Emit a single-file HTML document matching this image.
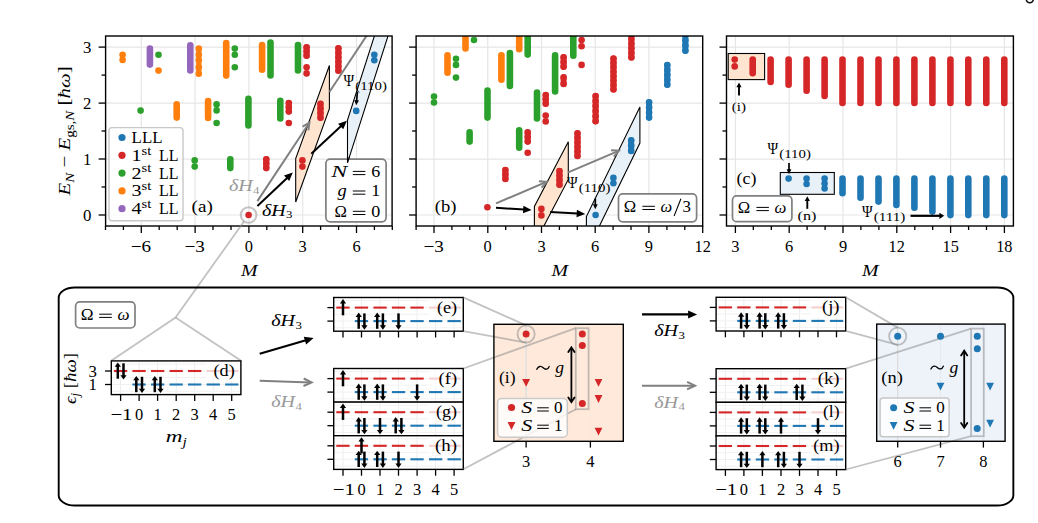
<!DOCTYPE html>
<html><head><meta charset="utf-8"><title>figure</title>
<style>
html,body{margin:0;padding:0;background:#fff;}
svg{display:block;}
text{font-family:"Liberation Serif",serif;}
.i{font-style:italic;}
</style></head><body>
<svg width="1038" height="523" viewBox="0 0 1038 523">
<rect x="0" y="0" width="1038" height="523" fill="#fff"/>
<clipPath id="cp0"><rect x="105.6" y="36.0" width="286.5" height="190.0"/></clipPath>
<g clip-path="url(#cp0)">
<line x1="141.3" y1="36.0" x2="141.3" y2="226.0" stroke="#e6e6e6" stroke-width="1.2"/>
<line x1="195.1" y1="36.0" x2="195.1" y2="226.0" stroke="#e6e6e6" stroke-width="1.2"/>
<line x1="248.9" y1="36.0" x2="248.9" y2="226.0" stroke="#e6e6e6" stroke-width="1.2"/>
<line x1="302.7" y1="36.0" x2="302.7" y2="226.0" stroke="#e6e6e6" stroke-width="1.2"/>
<line x1="356.5" y1="36.0" x2="356.5" y2="226.0" stroke="#e6e6e6" stroke-width="1.2"/>
<line x1="105.6" y1="215.0" x2="392.1" y2="215.0" stroke="#e6e6e6" stroke-width="1.2"/>
<line x1="105.6" y1="159.03" x2="392.1" y2="159.03" stroke="#e6e6e6" stroke-width="1.2"/>
<line x1="105.6" y1="103.06" x2="392.1" y2="103.06" stroke="#e6e6e6" stroke-width="1.2"/>
<line x1="105.6" y1="47.09" x2="392.1" y2="47.09" stroke="#e6e6e6" stroke-width="1.2"/>
</g>
<clipPath id="cp1"><rect x="416.1" y="36.0" width="286.6" height="190.0"/></clipPath>
<g clip-path="url(#cp1)">
<line x1="434.0" y1="36.0" x2="434.0" y2="226.0" stroke="#e6e6e6" stroke-width="1.2"/>
<line x1="487.75" y1="36.0" x2="487.75" y2="226.0" stroke="#e6e6e6" stroke-width="1.2"/>
<line x1="541.5" y1="36.0" x2="541.5" y2="226.0" stroke="#e6e6e6" stroke-width="1.2"/>
<line x1="595.2" y1="36.0" x2="595.2" y2="226.0" stroke="#e6e6e6" stroke-width="1.2"/>
<line x1="648.9" y1="36.0" x2="648.9" y2="226.0" stroke="#e6e6e6" stroke-width="1.2"/>
<line x1="702.7" y1="36.0" x2="702.7" y2="226.0" stroke="#e6e6e6" stroke-width="1.2"/>
<line x1="416.1" y1="215.0" x2="702.7" y2="215.0" stroke="#e6e6e6" stroke-width="1.2"/>
<line x1="416.1" y1="159.03" x2="702.7" y2="159.03" stroke="#e6e6e6" stroke-width="1.2"/>
<line x1="416.1" y1="103.06" x2="702.7" y2="103.06" stroke="#e6e6e6" stroke-width="1.2"/>
<line x1="416.1" y1="47.09" x2="702.7" y2="47.09" stroke="#e6e6e6" stroke-width="1.2"/>
</g>
<clipPath id="cp2"><rect x="726.5" y="36.0" width="286.9" height="190.0"/></clipPath>
<g clip-path="url(#cp2)">
<line x1="735.4" y1="36.0" x2="735.4" y2="226.0" stroke="#e6e6e6" stroke-width="1.2"/>
<line x1="789.2" y1="36.0" x2="789.2" y2="226.0" stroke="#e6e6e6" stroke-width="1.2"/>
<line x1="843.0" y1="36.0" x2="843.0" y2="226.0" stroke="#e6e6e6" stroke-width="1.2"/>
<line x1="896.8" y1="36.0" x2="896.8" y2="226.0" stroke="#e6e6e6" stroke-width="1.2"/>
<line x1="950.6" y1="36.0" x2="950.6" y2="226.0" stroke="#e6e6e6" stroke-width="1.2"/>
<line x1="1004.4" y1="36.0" x2="1004.4" y2="226.0" stroke="#e6e6e6" stroke-width="1.2"/>
<line x1="726.5" y1="215.0" x2="1013.4" y2="215.0" stroke="#e6e6e6" stroke-width="1.2"/>
<line x1="726.5" y1="159.03" x2="1013.4" y2="159.03" stroke="#e6e6e6" stroke-width="1.2"/>
<line x1="726.5" y1="103.06" x2="1013.4" y2="103.06" stroke="#e6e6e6" stroke-width="1.2"/>
<line x1="726.5" y1="47.09" x2="1013.4" y2="47.09" stroke="#e6e6e6" stroke-width="1.2"/>
</g>
<g clip-path="url(#cp0)">
<polygon points="295.7,202 295.7,158.5 329.4,65.5 329.4,108.6" fill="#ffe5cf" stroke="#000" stroke-width="1.1"/>
<polygon points="347.5,162.8 347.5,120.2 376.3,30 389.9,30" fill="#e9f1f8" stroke="#000" stroke-width="1.1"/>
<circle cx="122.6" cy="54.8" r="3.3" fill="#ff7f0e"/>
<circle cx="122.6" cy="59.9" r="3.3" fill="#ff7f0e"/>
<line x1="149.9" y1="48.5" x2="149.9" y2="64.6" stroke="#9467bd" stroke-width="6.6" stroke-linecap="round"/>
<circle cx="158.5" cy="54.8" r="3.3" fill="#2ca02c"/>
<circle cx="158.5" cy="70.6" r="3.3" fill="#ff7f0e"/>
<line x1="190.3" y1="45.4" x2="190.3" y2="70.4" stroke="#9467bd" stroke-width="6.6" stroke-linecap="round"/>
<line x1="198.8" y1="48.6" x2="198.8" y2="73.7" stroke="#ff7f0e" stroke-width="5.2" stroke-linecap="round"/>
<circle cx="198.8" cy="48.6" r="3.3" fill="#ff7f0e"/>
<circle cx="198.8" cy="54.8" r="3.3" fill="#ff7f0e"/>
<circle cx="198.8" cy="60.2" r="3.3" fill="#ff7f0e"/>
<circle cx="198.8" cy="67.2" r="3.3" fill="#ff7f0e"/>
<circle cx="198.8" cy="73.7" r="3.3" fill="#ff7f0e"/>
<line x1="226.2" y1="43.0" x2="226.2" y2="75.6" stroke="#ff7f0e" stroke-width="6.6" stroke-linecap="round"/>
<circle cx="234.8" cy="48.6" r="3.3" fill="#2ca02c"/>
<circle cx="234.8" cy="54.8" r="3.3" fill="#2ca02c"/>
<circle cx="234.8" cy="67.2" r="3.3" fill="#2ca02c"/>
<line x1="262.1" y1="45.0" x2="262.1" y2="69.8" stroke="#ff7f0e" stroke-width="6.6" stroke-linecap="round"/>
<line x1="270.5" y1="42.6" x2="270.5" y2="75.5" stroke="#2ca02c" stroke-width="6.6" stroke-linecap="round"/>
<line x1="298.0" y1="45.0" x2="298.0" y2="70.4" stroke="#2ca02c" stroke-width="6.6" stroke-linecap="round"/>
<line x1="306.6" y1="47.2" x2="306.6" y2="55.8" stroke="#d62728" stroke-width="5.9" stroke-linecap="round"/>
<circle cx="306.6" cy="47.2" r="3.3" fill="#d62728"/>
<circle cx="306.6" cy="51.5" r="3.3" fill="#d62728"/>
<circle cx="306.6" cy="55.8" r="3.3" fill="#d62728"/>
<circle cx="306.6" cy="67.2" r="3.3" fill="#d62728"/>
<circle cx="306.6" cy="73.4" r="3.3" fill="#d62728"/>
<line x1="338.4" y1="48.3" x2="338.4" y2="70.8" stroke="#d62728" stroke-width="5.9" stroke-linecap="round"/>
<circle cx="338.4" cy="48.3" r="3.3" fill="#d62728"/>
<circle cx="338.4" cy="52.8" r="3.3" fill="#d62728"/>
<circle cx="338.4" cy="57.3" r="3.3" fill="#d62728"/>
<circle cx="338.4" cy="61.8" r="3.3" fill="#d62728"/>
<circle cx="338.4" cy="66.3" r="3.3" fill="#d62728"/>
<circle cx="338.4" cy="70.8" r="3.3" fill="#d62728"/>
<circle cx="374.3" cy="54.8" r="3.3" fill="#1f77b4"/>
<circle cx="374.3" cy="60.2" r="3.3" fill="#1f77b4"/>
<circle cx="140.6" cy="110.6" r="3.3" fill="#2ca02c"/>
<line x1="176.7" y1="104.2" x2="176.7" y2="117.6" stroke="#ff7f0e" stroke-width="6.6" stroke-linecap="round"/>
<line x1="208.1" y1="101.0" x2="208.1" y2="118.0" stroke="#ff7f0e" stroke-width="6.6" stroke-linecap="round"/>
<circle cx="216.6" cy="104.4" r="3.3" fill="#2ca02c"/>
<circle cx="216.6" cy="110.4" r="3.3" fill="#2ca02c"/>
<circle cx="216.6" cy="123.0" r="3.3" fill="#2ca02c"/>
<line x1="248.4" y1="98.7" x2="248.4" y2="125.4" stroke="#2ca02c" stroke-width="6.6" stroke-linecap="round"/>
<line x1="280.3" y1="100.7" x2="280.3" y2="118.5" stroke="#2ca02c" stroke-width="6.6" stroke-linecap="round"/>
<line x1="288.8" y1="103.0" x2="288.8" y2="111.5" stroke="#d62728" stroke-width="5.9" stroke-linecap="round"/>
<circle cx="288.8" cy="103.0" r="3.3" fill="#d62728"/>
<circle cx="288.8" cy="107.2" r="3.3" fill="#d62728"/>
<circle cx="288.8" cy="111.5" r="3.3" fill="#d62728"/>
<circle cx="288.8" cy="123.0" r="3.3" fill="#d62728"/>
<line x1="320.5" y1="103.8" x2="320.5" y2="117.7" stroke="#d62728" stroke-width="5.9" stroke-linecap="round"/>
<circle cx="320.5" cy="103.8" r="3.3" fill="#d62728"/>
<circle cx="320.5" cy="108.4" r="3.3" fill="#d62728"/>
<circle cx="320.5" cy="113.1" r="3.3" fill="#d62728"/>
<circle cx="320.5" cy="117.7" r="3.3" fill="#d62728"/>
<circle cx="356.2" cy="110.9" r="3.3" fill="#1f77b4"/>
<circle cx="194.7" cy="160.4" r="3.3" fill="#2ca02c"/>
<circle cx="194.7" cy="166.6" r="3.3" fill="#2ca02c"/>
<line x1="230.3" y1="159.2" x2="230.3" y2="168.1" stroke="#2ca02c" stroke-width="6.6" stroke-linecap="round"/>
<line x1="266.3" y1="159.2" x2="266.3" y2="168.1" stroke="#d62728" stroke-width="5.9" stroke-linecap="round"/>
<circle cx="266.3" cy="159.2" r="3.3" fill="#d62728"/>
<circle cx="266.3" cy="163.6" r="3.3" fill="#d62728"/>
<circle cx="266.3" cy="168.1" r="3.3" fill="#d62728"/>
<circle cx="302.4" cy="160.4" r="3.3" fill="#d62728"/>
<circle cx="302.4" cy="166.6" r="3.3" fill="#d62728"/>
<circle cx="248.6" cy="215.0" r="3.3" fill="#d62728"/>
<line x1="257.4" y1="201.1" x2="308.8" y2="123.5" stroke="#808080" stroke-width="2"/>
<polyline points="308.4,130.4 309.4,122.7 302.6,126.6" fill="none" stroke="#808080" stroke-width="2" stroke-linejoin="miter"/>
<line x1="329.4" y1="92" x2="373.7" y2="25" stroke="#808080" stroke-width="2"/>
<line x1="257.4" y1="206.0" x2="287.4" y2="177.7" stroke="#000" stroke-width="2"/>
<polygon points="292.8,172.5 289.2,181.1 284.0,175.6" fill="#000"/>
<line x1="311.3" y1="153.8" x2="341.4" y2="125.8" stroke="#000" stroke-width="2"/>
<polygon points="346.9,120.7 343.2,129.2 338.1,123.7" fill="#000"/>
</g>
<circle cx="248.6" cy="215" r="7.8" fill="none" stroke="#8c8c8c" stroke-opacity="0.5" stroke-width="2.1"/>
<rect x="109.0" y="127.6" width="74.0" height="93.1" rx="3" ry="3" fill="#fff" fill-opacity="0.8" stroke="#c8c8c8" stroke-width="1.4"/>
<circle cx="122.0" cy="137.5" r="3.6" fill="#1f77b4"/>
<text x="131.6" y="142.9" font-size="17" text-anchor="start" fill="#000" textLength="30.9" lengthAdjust="spacingAndGlyphs"  style="">LLL</text>
<circle cx="122.0" cy="155.3" r="3.6" fill="#d62728"/>
<text x="131.4" y="160.7" font-size="17" textLength="19.8" lengthAdjust="spacingAndGlyphs">1<tspan font-size="12.3" dy="-6.2">st</tspan></text>
<text x="158.9" y="160.7" font-size="17" text-anchor="start" fill="#000" textLength="19.5" lengthAdjust="spacingAndGlyphs"  style="">LL</text>
<circle cx="122.0" cy="173.1" r="3.6" fill="#2ca02c"/>
<text x="131.4" y="178.5" font-size="17" textLength="19.8" lengthAdjust="spacingAndGlyphs">2<tspan font-size="12.3" dy="-6.2">st</tspan></text>
<text x="158.9" y="178.5" font-size="17" text-anchor="start" fill="#000" textLength="19.5" lengthAdjust="spacingAndGlyphs"  style="">LL</text>
<circle cx="122.0" cy="190.9" r="3.6" fill="#ff7f0e"/>
<text x="131.4" y="196.3" font-size="17" textLength="19.8" lengthAdjust="spacingAndGlyphs">3<tspan font-size="12.3" dy="-6.2">st</tspan></text>
<text x="158.9" y="196.3" font-size="17" text-anchor="start" fill="#000" textLength="19.5" lengthAdjust="spacingAndGlyphs"  style="">LL</text>
<circle cx="122.0" cy="208.7" r="3.6" fill="#9467bd"/>
<text x="131.4" y="214.1" font-size="17" textLength="19.8" lengthAdjust="spacingAndGlyphs">4<tspan font-size="12.3" dy="-6.2">st</tspan></text>
<text x="158.9" y="214.1" font-size="17" text-anchor="start" fill="#000" textLength="19.5" lengthAdjust="spacingAndGlyphs"  style="">LL</text>
<text x="191.6" y="212.0" font-size="17" text-anchor="start" fill="#000" textLength="21.2" lengthAdjust="spacingAndGlyphs"  style="">(a)</text>
<text x="229.0" y="191.0" font-size="17.5" fill="#999" textLength="30.5" lengthAdjust="spacingAndGlyphs"><tspan class="i">δH</tspan><tspan font-size="11.2" dy="2.7" dx="0.3">4</tspan></text>
<text x="262.0" y="215.7" font-size="17.5" fill="#000" textLength="30.5" lengthAdjust="spacingAndGlyphs"><tspan class="i">δH</tspan><tspan font-size="11.2" dy="2.7" dx="0.3">3</tspan></text>
<rect x="325.9" y="159.2" width="60.2" height="62.6" rx="4.2" ry="4.2" fill="#fff" fill-opacity="0.82" stroke="#808080" stroke-width="1.7"/>
<text x="331.3" y="176.7" font-size="17.5" fill="#000" class="i" textLength="16.0" lengthAdjust="spacingAndGlyphs">N</text>
<line x1="352.8" y1="171.4" x2="365.4" y2="171.4" stroke="#000" stroke-width="1.0"/>
<line x1="352.8" y1="174.6" x2="365.4" y2="174.6" stroke="#000" stroke-width="1.0"/>
<text x="371.3" y="176.7" font-size="16.6" fill="#000" textLength="9.0" lengthAdjust="spacingAndGlyphs">6</text>
<text x="337.6" y="196.3" font-size="17.5" fill="#000" class="i" textLength="9.2" lengthAdjust="spacingAndGlyphs">g</text>
<line x1="352.8" y1="191.0" x2="365.4" y2="191.0" stroke="#000" stroke-width="1.0"/>
<line x1="352.8" y1="194.2" x2="365.4" y2="194.2" stroke="#000" stroke-width="1.0"/>
<text x="371.3" y="196.3" font-size="16.6" fill="#000" textLength="9.0" lengthAdjust="spacingAndGlyphs">1</text>
<text x="334.4" y="216.6" font-size="17.5" fill="#000" textLength="12.4" lengthAdjust="spacingAndGlyphs">Ω</text>
<line x1="352.8" y1="211.3" x2="365.4" y2="211.3" stroke="#000" stroke-width="1.0"/>
<line x1="352.8" y1="214.5" x2="365.4" y2="214.5" stroke="#000" stroke-width="1.0"/>
<text x="371.3" y="216.6" font-size="16.6" fill="#000" textLength="9.0" lengthAdjust="spacingAndGlyphs">0</text>
<polyline points="347.5,157 347.5,162.8 349.4,157" fill="none" stroke="#000" stroke-width="1.1"/>
<text x="343.5" y="85.5" font-size="16.5" textLength="10.6" lengthAdjust="spacingAndGlyphs">Ψ</text>
<text x="355.3" y="89.5" font-size="12" textLength="31.6" lengthAdjust="spacingAndGlyphs">(110)</text>
<line x1="357.4" y1="91.8" x2="356.6" y2="101.3" stroke="#000" stroke-width="1.7"/>
<polygon points="356.2,105.3 354.3,100.1 359.0,100.5" fill="#000"/>
<g clip-path="url(#cp1)">
<polygon points="534.4,244.1 534.4,206.5 568.3,141.8 568.3,179.4" fill="#ffe5cf" stroke="#000" stroke-width="1.1"/>
<polygon points="586.4,252.7 586.4,216.6 639.9,107 639.9,143" fill="#e9f1f8" stroke="#000" stroke-width="1.1"/>
<circle cx="434.0" cy="96.6" r="3.3" fill="#2ca02c"/>
<circle cx="434.0" cy="102.5" r="3.3" fill="#2ca02c"/>
<line x1="447.5" y1="55.3" x2="447.5" y2="72.7" stroke="#ff7f0e" stroke-width="6.6" stroke-linecap="round"/>
<circle cx="456.0" cy="58.7" r="3.3" fill="#2ca02c"/>
<circle cx="456.0" cy="64.9" r="3.3" fill="#2ca02c"/>
<circle cx="456.0" cy="77.6" r="3.3" fill="#2ca02c"/>
<line x1="465.5" y1="30.0" x2="465.5" y2="48.4" stroke="#ff7f0e" stroke-width="6.6" stroke-linecap="round"/>
<circle cx="474.0" cy="40.0" r="3.3" fill="#2ca02c"/>
<line x1="487.5" y1="90.6" x2="487.5" y2="117.6" stroke="#2ca02c" stroke-width="6.6" stroke-linecap="round"/>
<line x1="501.4" y1="55.3" x2="501.4" y2="79.7" stroke="#ff7f0e" stroke-width="6.6" stroke-linecap="round"/>
<line x1="509.9" y1="53.1" x2="509.9" y2="86.0" stroke="#2ca02c" stroke-width="6.6" stroke-linecap="round"/>
<line x1="519.2" y1="30.0" x2="519.2" y2="49.2" stroke="#ff7f0e" stroke-width="6.6" stroke-linecap="round"/>
<line x1="527.7" y1="30.0" x2="527.7" y2="54.6" stroke="#2ca02c" stroke-width="6.6" stroke-linecap="round"/>
<line x1="537.0" y1="92.6" x2="537.0" y2="118.4" stroke="#2ca02c" stroke-width="6.6" stroke-linecap="round"/>
<line x1="545.7" y1="95.0" x2="545.7" y2="103.7" stroke="#d62728" stroke-width="5.9" stroke-linecap="round"/>
<circle cx="545.7" cy="95.0" r="3.3" fill="#d62728"/>
<circle cx="545.7" cy="99.3" r="3.3" fill="#d62728"/>
<circle cx="545.7" cy="103.7" r="3.3" fill="#d62728"/>
<circle cx="545.7" cy="115.5" r="3.3" fill="#d62728"/>
<circle cx="545.7" cy="121.4" r="3.3" fill="#d62728"/>
<line x1="555.1" y1="55.4" x2="555.1" y2="91.4" stroke="#2ca02c" stroke-width="6.6" stroke-linecap="round"/>
<line x1="563.6" y1="57.3" x2="563.6" y2="66.7" stroke="#d62728" stroke-width="5.9" stroke-linecap="round"/>
<circle cx="563.6" cy="57.3" r="3.3" fill="#d62728"/>
<circle cx="563.6" cy="62.0" r="3.3" fill="#d62728"/>
<circle cx="563.6" cy="66.7" r="3.3" fill="#d62728"/>
<line x1="563.6" y1="77.4" x2="563.6" y2="84.0" stroke="#d62728" stroke-width="5.9" stroke-linecap="round"/>
<circle cx="563.6" cy="77.4" r="3.3" fill="#d62728"/>
<circle cx="563.6" cy="84.0" r="3.3" fill="#d62728"/>
<line x1="573.3" y1="30.0" x2="573.3" y2="55.7" stroke="#2ca02c" stroke-width="6.6" stroke-linecap="round"/>
<circle cx="581.6" cy="40.0" r="3.3" fill="#d62728"/>
<circle cx="581.6" cy="46.3" r="3.3" fill="#d62728"/>
<circle cx="581.6" cy="64.9" r="3.3" fill="#d62728"/>
<line x1="595.6" y1="96.0" x2="595.6" y2="121.2" stroke="#d62728" stroke-width="5.9" stroke-linecap="round"/>
<circle cx="595.6" cy="96.0" r="3.3" fill="#d62728"/>
<circle cx="595.6" cy="101.0" r="3.3" fill="#d62728"/>
<circle cx="595.6" cy="106.1" r="3.3" fill="#d62728"/>
<circle cx="595.6" cy="111.1" r="3.3" fill="#d62728"/>
<circle cx="595.6" cy="116.2" r="3.3" fill="#d62728"/>
<circle cx="595.6" cy="121.2" r="3.3" fill="#d62728"/>
<line x1="613.5" y1="58.5" x2="613.5" y2="89.4" stroke="#d62728" stroke-width="5.9" stroke-linecap="round"/>
<circle cx="613.5" cy="58.5" r="3.3" fill="#d62728"/>
<circle cx="613.5" cy="62.9" r="3.3" fill="#d62728"/>
<circle cx="613.5" cy="67.3" r="3.3" fill="#d62728"/>
<circle cx="613.5" cy="71.7" r="3.3" fill="#d62728"/>
<circle cx="613.5" cy="76.2" r="3.3" fill="#d62728"/>
<circle cx="613.5" cy="80.6" r="3.3" fill="#d62728"/>
<circle cx="613.5" cy="85.0" r="3.3" fill="#d62728"/>
<circle cx="613.5" cy="89.4" r="3.3" fill="#d62728"/>
<line x1="631.4" y1="30.0" x2="631.4" y2="57.4" stroke="#d62728" stroke-width="5.9" stroke-linecap="round"/>
<circle cx="631.4" cy="30.0" r="3.3" fill="#d62728"/>
<circle cx="631.4" cy="34.6" r="3.3" fill="#d62728"/>
<circle cx="631.4" cy="39.1" r="3.3" fill="#d62728"/>
<circle cx="631.4" cy="43.7" r="3.3" fill="#d62728"/>
<circle cx="631.4" cy="48.3" r="3.3" fill="#d62728"/>
<circle cx="631.4" cy="52.8" r="3.3" fill="#d62728"/>
<circle cx="631.4" cy="57.4" r="3.3" fill="#d62728"/>
<line x1="649.1" y1="102.3" x2="649.1" y2="117.6" stroke="#1f77b4" stroke-width="5.9" stroke-linecap="round"/>
<circle cx="649.1" cy="102.3" r="3.3" fill="#1f77b4"/>
<circle cx="649.1" cy="107.4" r="3.3" fill="#1f77b4"/>
<circle cx="649.1" cy="112.5" r="3.3" fill="#1f77b4"/>
<circle cx="649.1" cy="117.6" r="3.3" fill="#1f77b4"/>
<line x1="667.3" y1="65.0" x2="667.3" y2="84.8" stroke="#1f77b4" stroke-width="5.9" stroke-linecap="round"/>
<circle cx="667.3" cy="65.0" r="3.3" fill="#1f77b4"/>
<circle cx="667.3" cy="70.0" r="3.3" fill="#1f77b4"/>
<circle cx="667.3" cy="74.9" r="3.3" fill="#1f77b4"/>
<circle cx="667.3" cy="79.8" r="3.3" fill="#1f77b4"/>
<circle cx="667.3" cy="84.8" r="3.3" fill="#1f77b4"/>
<line x1="685.4" y1="30.0" x2="685.4" y2="50.7" stroke="#1f77b4" stroke-width="5.9" stroke-linecap="round"/>
<circle cx="685.4" cy="30.0" r="3.3" fill="#1f77b4"/>
<circle cx="685.4" cy="35.2" r="3.3" fill="#1f77b4"/>
<circle cx="685.4" cy="40.4" r="3.3" fill="#1f77b4"/>
<circle cx="685.4" cy="45.5" r="3.3" fill="#1f77b4"/>
<circle cx="685.4" cy="50.7" r="3.3" fill="#1f77b4"/>
<line x1="469.6" y1="132.4" x2="469.6" y2="141.6" stroke="#2ca02c" stroke-width="6.6" stroke-linecap="round"/>
<line x1="519.2" y1="130.4" x2="519.2" y2="147.8" stroke="#2ca02c" stroke-width="6.6" stroke-linecap="round"/>
<line x1="527.7" y1="132.4" x2="527.7" y2="141.6" stroke="#d62728" stroke-width="5.9" stroke-linecap="round"/>
<circle cx="527.7" cy="132.4" r="3.3" fill="#d62728"/>
<circle cx="527.7" cy="137.0" r="3.3" fill="#d62728"/>
<circle cx="527.7" cy="141.6" r="3.3" fill="#d62728"/>
<circle cx="527.7" cy="152.7" r="3.3" fill="#d62728"/>
<line x1="577.5" y1="133.2" x2="577.5" y2="156.0" stroke="#d62728" stroke-width="5.9" stroke-linecap="round"/>
<circle cx="577.5" cy="133.2" r="3.3" fill="#d62728"/>
<circle cx="577.5" cy="137.8" r="3.3" fill="#d62728"/>
<circle cx="577.5" cy="142.3" r="3.3" fill="#d62728"/>
<circle cx="577.5" cy="146.9" r="3.3" fill="#d62728"/>
<circle cx="577.5" cy="151.4" r="3.3" fill="#d62728"/>
<circle cx="577.5" cy="156.0" r="3.3" fill="#d62728"/>
<line x1="631.2" y1="140.2" x2="631.2" y2="150.9" stroke="#1f77b4" stroke-width="5.9" stroke-linecap="round"/>
<circle cx="631.2" cy="140.2" r="3.3" fill="#1f77b4"/>
<circle cx="631.2" cy="145.6" r="3.3" fill="#1f77b4"/>
<circle cx="631.2" cy="150.9" r="3.3" fill="#1f77b4"/>
<line x1="505.4" y1="170.0" x2="505.4" y2="178.9" stroke="#d62728" stroke-width="5.9" stroke-linecap="round"/>
<circle cx="505.4" cy="170.0" r="3.3" fill="#d62728"/>
<circle cx="505.4" cy="174.4" r="3.3" fill="#d62728"/>
<circle cx="505.4" cy="178.9" r="3.3" fill="#d62728"/>
<line x1="559.5" y1="171.0" x2="559.5" y2="184.7" stroke="#d62728" stroke-width="5.9" stroke-linecap="round"/>
<circle cx="559.5" cy="171.0" r="3.3" fill="#d62728"/>
<circle cx="559.5" cy="175.6" r="3.3" fill="#d62728"/>
<circle cx="559.5" cy="180.1" r="3.3" fill="#d62728"/>
<circle cx="559.5" cy="184.7" r="3.3" fill="#d62728"/>
<circle cx="613.4" cy="177.9" r="3.3" fill="#1f77b4"/>
<circle cx="613.4" cy="183.3" r="3.3" fill="#1f77b4"/>
<circle cx="487.4" cy="207.3" r="3.3" fill="#d62728"/>
<circle cx="541.4" cy="208.9" r="3.3" fill="#d62728"/>
<circle cx="541.4" cy="215.4" r="3.3" fill="#d62728"/>
<circle cx="595.6" cy="215.0" r="3.3" fill="#1f77b4"/>
<line x1="496.0" y1="203.4" x2="545.8" y2="182.2" stroke="#808080" stroke-width="2"/>
<polyline points="541.7,187.7 546.8,181.8 538.9,181.3" fill="none" stroke="#808080" stroke-width="2" stroke-linejoin="miter"/>
<line x1="568.2" y1="172.3" x2="618.0" y2="151.1" stroke="#808080" stroke-width="2"/>
<polyline points="613.9,156.6 619.0,150.7 611.1,150.2" fill="none" stroke="#808080" stroke-width="2" stroke-linejoin="miter"/>
<line x1="496.0" y1="207.8" x2="524.1" y2="209.6" stroke="#000" stroke-width="2"/>
<polygon points="531.6,210.1 522.9,213.3 523.4,205.8" fill="#000"/>
<line x1="550.2" y1="212.0" x2="577.7" y2="213.6" stroke="#000" stroke-width="2"/>
<polygon points="585.2,214.0 576.5,217.3 576.9,209.8" fill="#000"/>
</g>
<text x="434.8" y="211.8" font-size="17" text-anchor="start" fill="#000" textLength="21.7" lengthAdjust="spacingAndGlyphs"  style="">(b)</text>
<text x="567.0" y="188.4" font-size="16.5" textLength="10.6" lengthAdjust="spacingAndGlyphs">Ψ</text>
<text x="578.8" y="192.4" font-size="12" textLength="31.6" lengthAdjust="spacingAndGlyphs">(110)</text>
<line x1="595.3" y1="198.6" x2="595.3" y2="205.2" stroke="#000" stroke-width="1.7"/>
<polygon points="595.3,209.2 592.9,204.2 597.7,204.2" fill="#000"/>
<rect x="618.5" y="193.9" width="78.1" height="27.9" rx="4.2" ry="4.2" fill="#fff" fill-opacity="0.82" stroke="#808080" stroke-width="1.7"/>
<text x="623.8" y="211.6" font-size="17.5" fill="#000" textLength="12.4" lengthAdjust="spacingAndGlyphs">Ω</text>
<line x1="642.4" y1="206.3" x2="654.9" y2="206.3" stroke="#000" stroke-width="1.0"/>
<line x1="642.4" y1="209.5" x2="654.9" y2="209.5" stroke="#000" stroke-width="1.0"/>
<text x="660.6" y="211.6" font-size="17.5" fill="#000" class="i" textLength="11.6" lengthAdjust="spacingAndGlyphs">ω</text>
<line x1="674.1" y1="216.0" x2="680.9" y2="198.7" stroke="#000" stroke-width="1.05"/>
<text x="682.6" y="211.6" font-size="16.6" fill="#000" textLength="8.4" lengthAdjust="spacingAndGlyphs">3</text>
<g clip-path="url(#cp2)">
<rect x="728.2" y="53.5" width="36.4" height="26.1" fill="#ffe5cf" stroke="#000" stroke-width="1.1"/>
<rect x="780.3" y="172.5" width="54" height="21.8" fill="#e9f1f8" stroke="#000" stroke-width="1.1"/>
<circle cx="734.7" cy="59.6" r="3.3" fill="#d62728"/>
<circle cx="734.7" cy="66.4" r="3.3" fill="#d62728"/>
<line x1="752.7" y1="59.6" x2="752.7" y2="73.2" stroke="#d62728" stroke-width="6.6" stroke-linecap="round"/>
<line x1="770.6" y1="59.6" x2="770.6" y2="82.0" stroke="#d62728" stroke-width="6.6" stroke-linecap="round"/>
<line x1="788.6" y1="59.6" x2="788.6" y2="84.8" stroke="#d62728" stroke-width="6.6" stroke-linecap="round"/>
<line x1="806.6" y1="59.6" x2="806.6" y2="90.7" stroke="#d62728" stroke-width="6.6" stroke-linecap="round"/>
<line x1="824.6" y1="59.6" x2="824.6" y2="96.0" stroke="#d62728" stroke-width="6.6" stroke-linecap="round"/>
<line x1="842.5" y1="59.6" x2="842.5" y2="103.0" stroke="#d62728" stroke-width="6.6" stroke-linecap="round"/>
<line x1="860.5" y1="59.6" x2="860.5" y2="103.0" stroke="#d62728" stroke-width="6.6" stroke-linecap="round"/>
<line x1="878.5" y1="59.6" x2="878.5" y2="103.0" stroke="#d62728" stroke-width="6.6" stroke-linecap="round"/>
<line x1="896.4" y1="59.6" x2="896.4" y2="103.0" stroke="#d62728" stroke-width="6.6" stroke-linecap="round"/>
<line x1="914.4" y1="59.6" x2="914.4" y2="103.0" stroke="#d62728" stroke-width="6.6" stroke-linecap="round"/>
<line x1="932.4" y1="59.6" x2="932.4" y2="103.0" stroke="#d62728" stroke-width="6.6" stroke-linecap="round"/>
<line x1="950.4" y1="59.6" x2="950.4" y2="103.0" stroke="#d62728" stroke-width="6.6" stroke-linecap="round"/>
<line x1="968.3" y1="59.6" x2="968.3" y2="103.0" stroke="#d62728" stroke-width="6.6" stroke-linecap="round"/>
<line x1="986.3" y1="59.6" x2="986.3" y2="103.0" stroke="#d62728" stroke-width="6.6" stroke-linecap="round"/>
<line x1="1004.3" y1="59.6" x2="1004.3" y2="103.0" stroke="#d62728" stroke-width="6.6" stroke-linecap="round"/>
<circle cx="788.6" cy="178.6" r="3.3" fill="#1f77b4"/>
<circle cx="806.6" cy="178.6" r="3.3" fill="#1f77b4"/>
<circle cx="806.6" cy="184.0" r="3.3" fill="#1f77b4"/>
<circle cx="824.6" cy="178.6" r="3.3" fill="#1f77b4"/>
<circle cx="824.6" cy="183.5" r="3.3" fill="#1f77b4"/>
<circle cx="824.6" cy="188.5" r="3.3" fill="#1f77b4"/>
<line x1="842.5" y1="178.6" x2="842.5" y2="193.3" stroke="#1f77b4" stroke-width="6.6" stroke-linecap="round"/>
<line x1="860.5" y1="178.6" x2="860.5" y2="197.8" stroke="#1f77b4" stroke-width="6.6" stroke-linecap="round"/>
<line x1="878.5" y1="178.6" x2="878.5" y2="201.6" stroke="#1f77b4" stroke-width="6.6" stroke-linecap="round"/>
<line x1="896.4" y1="178.6" x2="896.4" y2="204.9" stroke="#1f77b4" stroke-width="6.6" stroke-linecap="round"/>
<line x1="914.4" y1="178.6" x2="914.4" y2="207.8" stroke="#1f77b4" stroke-width="6.6" stroke-linecap="round"/>
<line x1="932.4" y1="178.6" x2="932.4" y2="211.6" stroke="#1f77b4" stroke-width="6.6" stroke-linecap="round"/>
<line x1="950.4" y1="178.6" x2="950.4" y2="215.1" stroke="#1f77b4" stroke-width="6.6" stroke-linecap="round"/>
<line x1="968.3" y1="178.6" x2="968.3" y2="215.1" stroke="#1f77b4" stroke-width="6.6" stroke-linecap="round"/>
<line x1="986.3" y1="178.6" x2="986.3" y2="215.1" stroke="#1f77b4" stroke-width="6.6" stroke-linecap="round"/>
<line x1="1004.3" y1="178.6" x2="1004.3" y2="215.1" stroke="#1f77b4" stroke-width="6.6" stroke-linecap="round"/>
</g>
<line x1="739.0" y1="95.4" x2="739.0" y2="86.2" stroke="#000" stroke-width="1.9"/>
<polygon points="739.0,82.6 741.6,87.2 736.4,87.2" fill="#000"/>
<text x="731.8" y="110.5" font-size="13.5" text-anchor="start" fill="#000" textLength="14.2" lengthAdjust="spacingAndGlyphs"  style="">(i)</text>
<text x="767.5" y="153.5" font-size="16.5" textLength="10.6" lengthAdjust="spacingAndGlyphs">Ψ</text>
<text x="779.3" y="157.5" font-size="12" textLength="31.6" lengthAdjust="spacingAndGlyphs">(110)</text>
<line x1="789.0" y1="163.0" x2="789.0" y2="170.2" stroke="#000" stroke-width="1.7"/>
<polygon points="789.0,174.2 786.6,169.2 791.4,169.2" fill="#000"/>
<text x="736.6" y="183.7" font-size="17" text-anchor="start" fill="#000" textLength="19.9" lengthAdjust="spacingAndGlyphs"  style="">(c)</text>
<rect x="732.5" y="195.9" width="59.4" height="25.8" rx="4.2" ry="4.2" fill="#fff" fill-opacity="0.82" stroke="#808080" stroke-width="1.7"/>
<text x="737.8" y="212.7" font-size="17.5" fill="#000" textLength="12.4" lengthAdjust="spacingAndGlyphs">Ω</text>
<line x1="756.4" y1="207.4" x2="768.9" y2="207.4" stroke="#000" stroke-width="1.0"/>
<line x1="756.4" y1="210.6" x2="768.9" y2="210.6" stroke="#000" stroke-width="1.0"/>
<text x="774.6" y="212.7" font-size="17.5" fill="#000" class="i" textLength="11.8" lengthAdjust="spacingAndGlyphs">ω</text>
<line x1="807.3" y1="208.8" x2="807.3" y2="199.9" stroke="#000" stroke-width="1.9"/>
<polygon points="807.3,196.3 809.9,200.9 804.7,200.9" fill="#000"/>
<text x="797.6" y="220.3" font-size="13.5" text-anchor="start" fill="#000" textLength="18.8" lengthAdjust="spacingAndGlyphs"  style="">(n)</text>
<text x="862.0" y="216.5" font-size="16.5" textLength="10.6" lengthAdjust="spacingAndGlyphs">Ψ</text>
<text x="873.8" y="220.5" font-size="12" textLength="31.6" lengthAdjust="spacingAndGlyphs">(111)</text>
<line x1="910.5" y1="215.8" x2="940.4" y2="215.8" stroke="#000" stroke-width="2.2"/>
<polygon points="944.2,215.8 939.4,219.0 939.4,212.7" fill="#000"/>
<text transform="translate(70,195.4) rotate(-90)" font-size="17" textLength="129" lengthAdjust="spacingAndGlyphs"><tspan class="i">E</tspan><tspan class="i" font-size="12.3" dy="3.8">N</tspan><tspan dy="-3.8"> − </tspan><tspan class="i">E</tspan><tspan font-size="12.3" dy="3.8">gs,<tspan class="i">N</tspan></tspan><tspan dy="-3.8"> [</tspan><tspan class="i">ħω</tspan>]</text>
<rect x="105.6" y="36.0" width="286.5" height="190.0" fill="none" stroke="#000" stroke-width="1.4"/>
<line x1="98.6" y1="215.0" x2="105.6" y2="215.0" stroke="#000" stroke-width="1.3"/>
<line x1="101.6" y1="187.0" x2="105.6" y2="187.0" stroke="#000" stroke-width="1.3"/>
<line x1="98.6" y1="159.0" x2="105.6" y2="159.0" stroke="#000" stroke-width="1.3"/>
<line x1="101.6" y1="131.0" x2="105.6" y2="131.0" stroke="#000" stroke-width="1.3"/>
<line x1="98.6" y1="103.1" x2="105.6" y2="103.1" stroke="#000" stroke-width="1.3"/>
<line x1="101.6" y1="75.1" x2="105.6" y2="75.1" stroke="#000" stroke-width="1.3"/>
<line x1="98.6" y1="47.1" x2="105.6" y2="47.1" stroke="#000" stroke-width="1.3"/>
<line x1="105.5" y1="226.0" x2="105.5" y2="230.0" stroke="#000" stroke-width="1.3"/>
<line x1="123.4" y1="226.0" x2="123.4" y2="230.0" stroke="#000" stroke-width="1.3"/>
<line x1="141.3" y1="226.0" x2="141.3" y2="233.0" stroke="#000" stroke-width="1.3"/>
<line x1="159.2" y1="226.0" x2="159.2" y2="230.0" stroke="#000" stroke-width="1.3"/>
<line x1="177.2" y1="226.0" x2="177.2" y2="230.0" stroke="#000" stroke-width="1.3"/>
<line x1="195.1" y1="226.0" x2="195.1" y2="233.0" stroke="#000" stroke-width="1.3"/>
<line x1="213.0" y1="226.0" x2="213.0" y2="230.0" stroke="#000" stroke-width="1.3"/>
<line x1="231.0" y1="226.0" x2="231.0" y2="230.0" stroke="#000" stroke-width="1.3"/>
<line x1="248.9" y1="226.0" x2="248.9" y2="233.0" stroke="#000" stroke-width="1.3"/>
<line x1="266.8" y1="226.0" x2="266.8" y2="230.0" stroke="#000" stroke-width="1.3"/>
<line x1="284.8" y1="226.0" x2="284.8" y2="230.0" stroke="#000" stroke-width="1.3"/>
<line x1="302.7" y1="226.0" x2="302.7" y2="233.0" stroke="#000" stroke-width="1.3"/>
<line x1="320.6" y1="226.0" x2="320.6" y2="230.0" stroke="#000" stroke-width="1.3"/>
<line x1="338.6" y1="226.0" x2="338.6" y2="230.0" stroke="#000" stroke-width="1.3"/>
<line x1="356.5" y1="226.0" x2="356.5" y2="233.0" stroke="#000" stroke-width="1.3"/>
<line x1="374.4" y1="226.0" x2="374.4" y2="230.0" stroke="#000" stroke-width="1.3"/>
<line x1="392.3" y1="226.0" x2="392.3" y2="230.0" stroke="#000" stroke-width="1.3"/>
<text x="130.8" y="252.2" font-size="16.5" text-anchor="start" fill="#000" textLength="20.3" lengthAdjust="spacingAndGlyphs"  style="">−6</text>
<text x="184.6" y="252.2" font-size="16.5" text-anchor="start" fill="#000" textLength="20.3" lengthAdjust="spacingAndGlyphs"  style="">−3</text>
<text x="244.8" y="252.2" font-size="16.5" text-anchor="start" fill="#000" textLength="8.2" lengthAdjust="spacingAndGlyphs"  style="">0</text>
<text x="298.6" y="252.2" font-size="16.5" text-anchor="start" fill="#000" textLength="8.2" lengthAdjust="spacingAndGlyphs"  style="">3</text>
<text x="352.4" y="252.2" font-size="16.5" text-anchor="start" fill="#000" textLength="8.2" lengthAdjust="spacingAndGlyphs"  style="">6</text>
<text x="240.9" y="275.7" font-size="17.5" text-anchor="start" fill="#000" textLength="16.5" lengthAdjust="spacingAndGlyphs"  style="font-style:italic">M</text>
<rect x="416.1" y="36.0" width="286.6" height="190.0" fill="none" stroke="#000" stroke-width="1.4"/>
<line x1="409.1" y1="215.0" x2="416.1" y2="215.0" stroke="#000" stroke-width="1.3"/>
<line x1="412.1" y1="187.0" x2="416.1" y2="187.0" stroke="#000" stroke-width="1.3"/>
<line x1="409.1" y1="159.0" x2="416.1" y2="159.0" stroke="#000" stroke-width="1.3"/>
<line x1="412.1" y1="131.0" x2="416.1" y2="131.0" stroke="#000" stroke-width="1.3"/>
<line x1="409.1" y1="103.1" x2="416.1" y2="103.1" stroke="#000" stroke-width="1.3"/>
<line x1="412.1" y1="75.1" x2="416.1" y2="75.1" stroke="#000" stroke-width="1.3"/>
<line x1="409.1" y1="47.1" x2="416.1" y2="47.1" stroke="#000" stroke-width="1.3"/>
<line x1="416.1" y1="226.0" x2="416.1" y2="230.0" stroke="#000" stroke-width="1.3"/>
<line x1="434.0" y1="226.0" x2="434.0" y2="233.0" stroke="#000" stroke-width="1.3"/>
<line x1="451.9" y1="226.0" x2="451.9" y2="230.0" stroke="#000" stroke-width="1.3"/>
<line x1="469.8" y1="226.0" x2="469.8" y2="230.0" stroke="#000" stroke-width="1.3"/>
<line x1="487.8" y1="226.0" x2="487.8" y2="233.0" stroke="#000" stroke-width="1.3"/>
<line x1="505.7" y1="226.0" x2="505.7" y2="230.0" stroke="#000" stroke-width="1.3"/>
<line x1="523.6" y1="226.0" x2="523.6" y2="230.0" stroke="#000" stroke-width="1.3"/>
<line x1="541.5" y1="226.0" x2="541.5" y2="233.0" stroke="#000" stroke-width="1.3"/>
<line x1="559.4" y1="226.0" x2="559.4" y2="230.0" stroke="#000" stroke-width="1.3"/>
<line x1="577.3" y1="226.0" x2="577.3" y2="230.0" stroke="#000" stroke-width="1.3"/>
<line x1="595.2" y1="226.0" x2="595.2" y2="233.0" stroke="#000" stroke-width="1.3"/>
<line x1="613.1" y1="226.0" x2="613.1" y2="230.0" stroke="#000" stroke-width="1.3"/>
<line x1="631.0" y1="226.0" x2="631.0" y2="230.0" stroke="#000" stroke-width="1.3"/>
<line x1="648.9" y1="226.0" x2="648.9" y2="233.0" stroke="#000" stroke-width="1.3"/>
<line x1="666.9" y1="226.0" x2="666.9" y2="230.0" stroke="#000" stroke-width="1.3"/>
<line x1="684.8" y1="226.0" x2="684.8" y2="230.0" stroke="#000" stroke-width="1.3"/>
<line x1="702.7" y1="226.0" x2="702.7" y2="233.0" stroke="#000" stroke-width="1.3"/>
<text x="423.6" y="252.2" font-size="16.5" text-anchor="start" fill="#000" textLength="20.3" lengthAdjust="spacingAndGlyphs"  style="">−3</text>
<text x="483.6" y="252.2" font-size="16.5" text-anchor="start" fill="#000" textLength="8.2" lengthAdjust="spacingAndGlyphs"  style="">0</text>
<text x="537.4" y="252.2" font-size="16.5" text-anchor="start" fill="#000" textLength="8.2" lengthAdjust="spacingAndGlyphs"  style="">3</text>
<text x="591.1" y="252.2" font-size="16.5" text-anchor="start" fill="#000" textLength="8.2" lengthAdjust="spacingAndGlyphs"  style="">6</text>
<text x="644.8" y="252.2" font-size="16.5" text-anchor="start" fill="#000" textLength="8.2" lengthAdjust="spacingAndGlyphs"  style="">9</text>
<text x="694.6" y="252.2" font-size="16.5" text-anchor="start" fill="#000" textLength="16.3" lengthAdjust="spacingAndGlyphs"  style="">12</text>
<text x="551.5" y="275.7" font-size="17.5" text-anchor="start" fill="#000" textLength="16.5" lengthAdjust="spacingAndGlyphs"  style="font-style:italic">M</text>
<rect x="726.5" y="36.0" width="286.9" height="190.0" fill="none" stroke="#000" stroke-width="1.4"/>
<line x1="719.5" y1="215.0" x2="726.5" y2="215.0" stroke="#000" stroke-width="1.3"/>
<line x1="722.5" y1="187.0" x2="726.5" y2="187.0" stroke="#000" stroke-width="1.3"/>
<line x1="719.5" y1="159.0" x2="726.5" y2="159.0" stroke="#000" stroke-width="1.3"/>
<line x1="722.5" y1="131.0" x2="726.5" y2="131.0" stroke="#000" stroke-width="1.3"/>
<line x1="719.5" y1="103.1" x2="726.5" y2="103.1" stroke="#000" stroke-width="1.3"/>
<line x1="722.5" y1="75.1" x2="726.5" y2="75.1" stroke="#000" stroke-width="1.3"/>
<line x1="719.5" y1="47.1" x2="726.5" y2="47.1" stroke="#000" stroke-width="1.3"/>
<line x1="735.4" y1="226.0" x2="735.4" y2="233.0" stroke="#000" stroke-width="1.3"/>
<line x1="753.3" y1="226.0" x2="753.3" y2="230.0" stroke="#000" stroke-width="1.3"/>
<line x1="771.3" y1="226.0" x2="771.3" y2="230.0" stroke="#000" stroke-width="1.3"/>
<line x1="789.2" y1="226.0" x2="789.2" y2="233.0" stroke="#000" stroke-width="1.3"/>
<line x1="807.1" y1="226.0" x2="807.1" y2="230.0" stroke="#000" stroke-width="1.3"/>
<line x1="825.1" y1="226.0" x2="825.1" y2="230.0" stroke="#000" stroke-width="1.3"/>
<line x1="843.0" y1="226.0" x2="843.0" y2="233.0" stroke="#000" stroke-width="1.3"/>
<line x1="860.9" y1="226.0" x2="860.9" y2="230.0" stroke="#000" stroke-width="1.3"/>
<line x1="878.9" y1="226.0" x2="878.9" y2="230.0" stroke="#000" stroke-width="1.3"/>
<line x1="896.8" y1="226.0" x2="896.8" y2="233.0" stroke="#000" stroke-width="1.3"/>
<line x1="914.8" y1="226.0" x2="914.8" y2="230.0" stroke="#000" stroke-width="1.3"/>
<line x1="932.7" y1="226.0" x2="932.7" y2="230.0" stroke="#000" stroke-width="1.3"/>
<line x1="950.6" y1="226.0" x2="950.6" y2="233.0" stroke="#000" stroke-width="1.3"/>
<line x1="968.6" y1="226.0" x2="968.6" y2="230.0" stroke="#000" stroke-width="1.3"/>
<line x1="986.5" y1="226.0" x2="986.5" y2="230.0" stroke="#000" stroke-width="1.3"/>
<line x1="1004.4" y1="226.0" x2="1004.4" y2="233.0" stroke="#000" stroke-width="1.3"/>
<text x="731.3" y="252.2" font-size="16.5" text-anchor="start" fill="#000" textLength="8.2" lengthAdjust="spacingAndGlyphs"  style="">3</text>
<text x="785.1" y="252.2" font-size="16.5" text-anchor="start" fill="#000" textLength="8.2" lengthAdjust="spacingAndGlyphs"  style="">6</text>
<text x="838.9" y="252.2" font-size="16.5" text-anchor="start" fill="#000" textLength="8.2" lengthAdjust="spacingAndGlyphs"  style="">9</text>
<text x="888.6" y="252.2" font-size="16.5" text-anchor="start" fill="#000" textLength="16.3" lengthAdjust="spacingAndGlyphs"  style="">12</text>
<text x="942.5" y="252.2" font-size="16.5" text-anchor="start" fill="#000" textLength="16.3" lengthAdjust="spacingAndGlyphs"  style="">15</text>
<text x="996.2" y="252.2" font-size="16.5" text-anchor="start" fill="#000" textLength="16.3" lengthAdjust="spacingAndGlyphs"  style="">18</text>
<text x="862.0" y="275.7" font-size="17.5" text-anchor="start" fill="#000" textLength="16.5" lengthAdjust="spacingAndGlyphs"  style="font-style:italic">M</text>
<text x="83.0" y="220.5" font-size="16.5" text-anchor="start" fill="#000" textLength="8.4" lengthAdjust="spacingAndGlyphs"  style="">0</text>
<text x="83.0" y="164.5" font-size="16.5" text-anchor="start" fill="#000" textLength="8.4" lengthAdjust="spacingAndGlyphs"  style="">1</text>
<text x="83.0" y="108.6" font-size="16.5" text-anchor="start" fill="#000" textLength="8.4" lengthAdjust="spacingAndGlyphs"  style="">2</text>
<text x="83.0" y="52.6" font-size="16.5" text-anchor="start" fill="#000" textLength="8.4" lengthAdjust="spacingAndGlyphs"  style="">3</text>
<polyline points="244.0,221.5 175.5,317.6 111.2,360.8" fill="none" stroke="#8c8c8c" stroke-opacity="0.53" stroke-width="1.8"/>
<line x1="175.5" y1="317.6" x2="241.1" y2="360.8" stroke="#8c8c8c" stroke-opacity="0.53" stroke-width="1.8"/>
<rect x="58.7" y="287.5" width="954.65" height="217.95" rx="16" ry="10.3" fill="none" stroke="#000" stroke-width="1.9"/>
<rect x="75.6" y="301.8" width="59.4" height="26.2" rx="4.2" ry="4.2" fill="#fff" fill-opacity="1" stroke="#808080" stroke-width="1.7"/>
<text x="80.7" y="319.5" font-size="17.5" fill="#000" textLength="12.8" lengthAdjust="spacingAndGlyphs">Ω</text>
<line x1="99.2" y1="314.2" x2="111.8" y2="314.2" stroke="#000" stroke-width="1.0"/>
<line x1="99.2" y1="317.4" x2="111.8" y2="317.4" stroke="#000" stroke-width="1.0"/>
<text x="117.5" y="319.5" font-size="17.5" fill="#000" class="i" textLength="12.0" lengthAdjust="spacingAndGlyphs">ω</text>
<rect x="111.3" y="360.9" width="129.6" height="33.7" fill="#fff"/>
<line x1="120.6" y1="360.9" x2="120.6" y2="394.59999999999997" stroke="#ededed" stroke-width="1"/>
<line x1="139.1" y1="360.9" x2="139.1" y2="394.59999999999997" stroke="#ededed" stroke-width="1"/>
<line x1="157.6" y1="360.9" x2="157.6" y2="394.59999999999997" stroke="#ededed" stroke-width="1"/>
<line x1="176.2" y1="360.9" x2="176.2" y2="394.59999999999997" stroke="#ededed" stroke-width="1"/>
<line x1="194.7" y1="360.9" x2="194.7" y2="394.59999999999997" stroke="#ededed" stroke-width="1"/>
<line x1="213.2" y1="360.9" x2="213.2" y2="394.59999999999997" stroke="#ededed" stroke-width="1"/>
<line x1="231.7" y1="360.9" x2="231.7" y2="394.59999999999997" stroke="#ededed" stroke-width="1"/>
<line x1="111.3" y1="371.0" x2="240.89999999999998" y2="371.0" stroke="#f1f1f1" stroke-width="1"/>
<line x1="111.3" y1="384.5" x2="240.89999999999998" y2="384.5" stroke="#f1f1f1" stroke-width="1"/>
<line x1="111.3" y1="377.6" x2="240.89999999999998" y2="377.6" stroke="#f1f1f1" stroke-width="1"/>
<line x1="111.3" y1="391.2" x2="240.89999999999998" y2="391.2" stroke="#f1f1f1" stroke-width="1"/>
<line x1="111.3" y1="364.0" x2="240.89999999999998" y2="364.0" stroke="#f1f1f1" stroke-width="1"/>
<line x1="113.9" y1="371.0" x2="127.2" y2="371.0" stroke="#d62728" stroke-width="2.1"/>
<line x1="132.4" y1="371.0" x2="145.7" y2="371.0" stroke="#d62728" stroke-width="2.1"/>
<line x1="132.4" y1="384.5" x2="145.7" y2="384.5" stroke="#1f77b4" stroke-width="2.1"/>
<line x1="151.0" y1="371.0" x2="164.3" y2="371.0" stroke="#d62728" stroke-width="2.1"/>
<line x1="151.0" y1="384.5" x2="164.3" y2="384.5" stroke="#1f77b4" stroke-width="2.1"/>
<line x1="169.5" y1="371.0" x2="182.8" y2="371.0" stroke="#d62728" stroke-width="2.1"/>
<line x1="169.5" y1="384.5" x2="182.8" y2="384.5" stroke="#1f77b4" stroke-width="2.1"/>
<line x1="188.0" y1="371.0" x2="201.3" y2="371.0" stroke="#d62728" stroke-width="2.1"/>
<line x1="188.0" y1="384.5" x2="201.3" y2="384.5" stroke="#1f77b4" stroke-width="2.1"/>
<line x1="206.6" y1="371.0" x2="219.9" y2="371.0" stroke="#d62728" stroke-width="2.1"/>
<line x1="206.6" y1="384.5" x2="219.9" y2="384.5" stroke="#1f77b4" stroke-width="2.1"/>
<line x1="225.1" y1="371.0" x2="238.4" y2="371.0" stroke="#d62728" stroke-width="2.1"/>
<line x1="225.1" y1="384.5" x2="238.4" y2="384.5" stroke="#1f77b4" stroke-width="2.1"/>
<rect x="205.7" y="361.4" width="35.2" height="19.5" fill="#fff" fill-opacity="0.78"/>
<text x="213.5" y="376.0" font-size="17" text-anchor="start" fill="#000" textLength="21.2" lengthAdjust="spacingAndGlyphs"  style="">(d)</text>
<line x1="117.8" y1="378.7" x2="117.8" y2="366.0" stroke="#000" stroke-width="2.5"/>
<polygon points="117.8,362.4 114.7,366.8 120.9,366.8" fill="#000"/>
<line x1="123.5" y1="363.3" x2="123.5" y2="376.0" stroke="#000" stroke-width="2.5"/>
<polygon points="123.5,379.6 120.4,375.2 126.6,375.2" fill="#000"/>
<line x1="136.3" y1="392.2" x2="136.3" y2="379.5" stroke="#000" stroke-width="2.5"/>
<polygon points="136.3,375.9 133.2,380.3 139.4,380.3" fill="#000"/>
<line x1="142.0" y1="376.8" x2="142.0" y2="389.5" stroke="#000" stroke-width="2.5"/>
<polygon points="142.0,393.1 138.9,388.7 145.1,388.7" fill="#000"/>
<line x1="154.8" y1="392.2" x2="154.8" y2="379.5" stroke="#000" stroke-width="2.5"/>
<polygon points="154.8,375.9 151.7,380.3 157.9,380.3" fill="#000"/>
<line x1="160.5" y1="376.8" x2="160.5" y2="389.5" stroke="#000" stroke-width="2.5"/>
<polygon points="160.5,393.1 157.4,388.7 163.6,388.7" fill="#000"/>
<rect x="111.3" y="360.9" width="129.6" height="33.7" fill="none" stroke="#000" stroke-width="1.4"/>
<line x1="105.0" y1="371.0" x2="111.3" y2="371.0" stroke="#000" stroke-width="1.3"/>
<line x1="105.0" y1="384.5" x2="111.3" y2="384.5" stroke="#000" stroke-width="1.3"/>
<line x1="120.6" y1="394.59999999999997" x2="120.6" y2="400.9" stroke="#000" stroke-width="1.3"/>
<line x1="139.1" y1="394.59999999999997" x2="139.1" y2="400.9" stroke="#000" stroke-width="1.3"/>
<line x1="157.6" y1="394.59999999999997" x2="157.6" y2="400.9" stroke="#000" stroke-width="1.3"/>
<line x1="176.2" y1="394.59999999999997" x2="176.2" y2="400.9" stroke="#000" stroke-width="1.3"/>
<line x1="194.7" y1="394.59999999999997" x2="194.7" y2="400.9" stroke="#000" stroke-width="1.3"/>
<line x1="213.2" y1="394.59999999999997" x2="213.2" y2="400.9" stroke="#000" stroke-width="1.3"/>
<line x1="231.7" y1="394.59999999999997" x2="231.7" y2="400.9" stroke="#000" stroke-width="1.3"/>
<text x="110.4" y="419.6" font-size="16.5" text-anchor="start" fill="#000" textLength="22.0" lengthAdjust="spacingAndGlyphs"  style="">−1</text>
<text x="135.0" y="419.6" font-size="16.5" text-anchor="start" fill="#000" textLength="8.2" lengthAdjust="spacingAndGlyphs"  style="">0</text>
<text x="153.5" y="419.6" font-size="16.5" text-anchor="start" fill="#000" textLength="8.2" lengthAdjust="spacingAndGlyphs"  style="">1</text>
<text x="172.1" y="419.6" font-size="16.5" text-anchor="start" fill="#000" textLength="8.2" lengthAdjust="spacingAndGlyphs"  style="">2</text>
<text x="190.6" y="419.6" font-size="16.5" text-anchor="start" fill="#000" textLength="8.2" lengthAdjust="spacingAndGlyphs"  style="">3</text>
<text x="209.1" y="419.6" font-size="16.5" text-anchor="start" fill="#000" textLength="8.2" lengthAdjust="spacingAndGlyphs"  style="">4</text>
<text x="227.6" y="419.6" font-size="16.5" text-anchor="start" fill="#000" textLength="8.2" lengthAdjust="spacingAndGlyphs"  style="">5</text>
<text x="88.6" y="376.5" font-size="16.5" text-anchor="start" fill="#000" textLength="8.4" lengthAdjust="spacingAndGlyphs"  style="">3</text>
<text x="88.6" y="390.0" font-size="16.5" text-anchor="start" fill="#000" textLength="8.4" lengthAdjust="spacingAndGlyphs"  style="">1</text>
<text x="165.8" y="442.3" font-size="17.5" textLength="21" lengthAdjust="spacingAndGlyphs"><tspan class="i">m</tspan><tspan class="i" font-size="11.5" dy="3.5">j</tspan></text>
<text transform="translate(75.5,404) rotate(-90)" font-size="17" textLength="51" lengthAdjust="spacingAndGlyphs"><tspan class="i">ϵ</tspan><tspan class="i" font-size="11.5" dy="3.5">j</tspan><tspan dy="-3.5"> [</tspan><tspan class="i">ħω</tspan>]</text>
<line x1="259.7" y1="353.7" x2="305.9" y2="340.3" stroke="#000" stroke-width="2.2"/>
<polygon points="313.6,338.1 306.1,344.4 303.8,336.8" fill="#000"/>
<line x1="259.7" y1="380.7" x2="310.6" y2="382.5" stroke="#808080" stroke-width="2"/>
<polyline points="303.5,386.0 311.6,382.5 303.7,378.5" fill="none" stroke="#808080" stroke-width="2" stroke-linejoin="miter"/>
<text x="271.3" y="325.9" font-size="17.5" fill="#000" textLength="30.5" lengthAdjust="spacingAndGlyphs"><tspan class="i">δH</tspan><tspan font-size="11.2" dy="2.7" dx="0.3">3</tspan></text>
<text x="271.3" y="406.9" font-size="17.5" fill="#999" textLength="30.5" lengthAdjust="spacingAndGlyphs"><tspan class="i">δH</tspan><tspan font-size="11.2" dy="2.7" dx="0.3">4</tspan></text>
<rect x="333.7" y="297.5" width="129.6" height="33.7" fill="#fff"/>
<line x1="343.0" y1="297.5" x2="343.0" y2="331.2" stroke="#ededed" stroke-width="1"/>
<line x1="361.5" y1="297.5" x2="361.5" y2="331.2" stroke="#ededed" stroke-width="1"/>
<line x1="380.0" y1="297.5" x2="380.0" y2="331.2" stroke="#ededed" stroke-width="1"/>
<line x1="398.5" y1="297.5" x2="398.5" y2="331.2" stroke="#ededed" stroke-width="1"/>
<line x1="417.1" y1="297.5" x2="417.1" y2="331.2" stroke="#ededed" stroke-width="1"/>
<line x1="435.6" y1="297.5" x2="435.6" y2="331.2" stroke="#ededed" stroke-width="1"/>
<line x1="454.1" y1="297.5" x2="454.1" y2="331.2" stroke="#ededed" stroke-width="1"/>
<line x1="333.7" y1="307.6" x2="463.29999999999995" y2="307.6" stroke="#f1f1f1" stroke-width="1"/>
<line x1="333.7" y1="321.1" x2="463.29999999999995" y2="321.1" stroke="#f1f1f1" stroke-width="1"/>
<line x1="333.7" y1="314.2" x2="463.29999999999995" y2="314.2" stroke="#f1f1f1" stroke-width="1"/>
<line x1="333.7" y1="327.8" x2="463.29999999999995" y2="327.8" stroke="#f1f1f1" stroke-width="1"/>
<line x1="333.7" y1="300.6" x2="463.29999999999995" y2="300.6" stroke="#f1f1f1" stroke-width="1"/>
<line x1="336.3" y1="307.6" x2="349.6" y2="307.6" stroke="#d62728" stroke-width="2.1"/>
<line x1="354.8" y1="307.6" x2="368.1" y2="307.6" stroke="#d62728" stroke-width="2.1"/>
<line x1="354.8" y1="321.1" x2="368.1" y2="321.1" stroke="#1f77b4" stroke-width="2.1"/>
<line x1="373.4" y1="307.6" x2="386.7" y2="307.6" stroke="#d62728" stroke-width="2.1"/>
<line x1="373.4" y1="321.1" x2="386.7" y2="321.1" stroke="#1f77b4" stroke-width="2.1"/>
<line x1="391.9" y1="307.6" x2="405.2" y2="307.6" stroke="#d62728" stroke-width="2.1"/>
<line x1="391.9" y1="321.1" x2="405.2" y2="321.1" stroke="#1f77b4" stroke-width="2.1"/>
<line x1="410.4" y1="307.6" x2="423.7" y2="307.6" stroke="#d62728" stroke-width="2.1"/>
<line x1="410.4" y1="321.1" x2="423.7" y2="321.1" stroke="#1f77b4" stroke-width="2.1"/>
<line x1="429.0" y1="307.6" x2="442.3" y2="307.6" stroke="#d62728" stroke-width="2.1"/>
<line x1="429.0" y1="321.1" x2="442.3" y2="321.1" stroke="#1f77b4" stroke-width="2.1"/>
<line x1="447.5" y1="307.6" x2="460.8" y2="307.6" stroke="#d62728" stroke-width="2.1"/>
<line x1="447.5" y1="321.1" x2="460.8" y2="321.1" stroke="#1f77b4" stroke-width="2.1"/>
<rect x="428.1" y="298.0" width="35.2" height="19.5" fill="#fff" fill-opacity="0.78"/>
<text x="436.9" y="312.6" font-size="17" text-anchor="start" fill="#000" textLength="20.2" lengthAdjust="spacingAndGlyphs"  style="">(e)</text>
<line x1="343.0" y1="315.3" x2="343.0" y2="302.6" stroke="#000" stroke-width="2.5"/>
<polygon points="343.0,299.0 339.9,303.4 346.1,303.4" fill="#000"/>
<line x1="358.7" y1="328.8" x2="358.7" y2="316.1" stroke="#000" stroke-width="2.5"/>
<polygon points="358.7,312.5 355.6,316.9 361.8,316.9" fill="#000"/>
<line x1="364.4" y1="313.4" x2="364.4" y2="326.1" stroke="#000" stroke-width="2.5"/>
<polygon points="364.4,329.7 361.3,325.3 367.5,325.3" fill="#000"/>
<line x1="377.2" y1="328.8" x2="377.2" y2="316.1" stroke="#000" stroke-width="2.5"/>
<polygon points="377.2,312.5 374.1,316.9 380.3,316.9" fill="#000"/>
<line x1="382.9" y1="313.4" x2="382.9" y2="326.1" stroke="#000" stroke-width="2.5"/>
<polygon points="382.9,329.7 379.8,325.3 386.0,325.3" fill="#000"/>
<line x1="398.5" y1="313.4" x2="398.5" y2="326.1" stroke="#000" stroke-width="2.5"/>
<polygon points="398.5,329.7 395.4,325.3 401.6,325.3" fill="#000"/>
<rect x="333.7" y="297.5" width="129.6" height="33.7" fill="none" stroke="#000" stroke-width="1.4"/>
<line x1="327.4" y1="307.6" x2="333.7" y2="307.6" stroke="#000" stroke-width="1.3"/>
<line x1="327.4" y1="321.1" x2="333.7" y2="321.1" stroke="#000" stroke-width="1.3"/>
<line x1="343.0" y1="331.2" x2="343.0" y2="337.5" stroke="#000" stroke-width="1.3"/>
<line x1="361.5" y1="331.2" x2="361.5" y2="337.5" stroke="#000" stroke-width="1.3"/>
<line x1="380.0" y1="331.2" x2="380.0" y2="337.5" stroke="#000" stroke-width="1.3"/>
<line x1="398.5" y1="331.2" x2="398.5" y2="337.5" stroke="#000" stroke-width="1.3"/>
<line x1="417.1" y1="331.2" x2="417.1" y2="337.5" stroke="#000" stroke-width="1.3"/>
<line x1="435.6" y1="331.2" x2="435.6" y2="337.5" stroke="#000" stroke-width="1.3"/>
<line x1="454.1" y1="331.2" x2="454.1" y2="337.5" stroke="#000" stroke-width="1.3"/>
<rect x="333.7" y="368.5" width="129.6" height="33.7" fill="#fff"/>
<line x1="343.0" y1="368.5" x2="343.0" y2="402.2" stroke="#ededed" stroke-width="1"/>
<line x1="361.5" y1="368.5" x2="361.5" y2="402.2" stroke="#ededed" stroke-width="1"/>
<line x1="380.0" y1="368.5" x2="380.0" y2="402.2" stroke="#ededed" stroke-width="1"/>
<line x1="398.5" y1="368.5" x2="398.5" y2="402.2" stroke="#ededed" stroke-width="1"/>
<line x1="417.1" y1="368.5" x2="417.1" y2="402.2" stroke="#ededed" stroke-width="1"/>
<line x1="435.6" y1="368.5" x2="435.6" y2="402.2" stroke="#ededed" stroke-width="1"/>
<line x1="454.1" y1="368.5" x2="454.1" y2="402.2" stroke="#ededed" stroke-width="1"/>
<line x1="333.7" y1="378.6" x2="463.29999999999995" y2="378.6" stroke="#f1f1f1" stroke-width="1"/>
<line x1="333.7" y1="392.1" x2="463.29999999999995" y2="392.1" stroke="#f1f1f1" stroke-width="1"/>
<line x1="333.7" y1="385.2" x2="463.29999999999995" y2="385.2" stroke="#f1f1f1" stroke-width="1"/>
<line x1="333.7" y1="398.8" x2="463.29999999999995" y2="398.8" stroke="#f1f1f1" stroke-width="1"/>
<line x1="333.7" y1="371.6" x2="463.29999999999995" y2="371.6" stroke="#f1f1f1" stroke-width="1"/>
<line x1="336.3" y1="378.6" x2="349.6" y2="378.6" stroke="#d62728" stroke-width="2.1"/>
<line x1="354.8" y1="378.6" x2="368.1" y2="378.6" stroke="#d62728" stroke-width="2.1"/>
<line x1="354.8" y1="392.1" x2="368.1" y2="392.1" stroke="#1f77b4" stroke-width="2.1"/>
<line x1="373.4" y1="378.6" x2="386.7" y2="378.6" stroke="#d62728" stroke-width="2.1"/>
<line x1="373.4" y1="392.1" x2="386.7" y2="392.1" stroke="#1f77b4" stroke-width="2.1"/>
<line x1="391.9" y1="378.6" x2="405.2" y2="378.6" stroke="#d62728" stroke-width="2.1"/>
<line x1="391.9" y1="392.1" x2="405.2" y2="392.1" stroke="#1f77b4" stroke-width="2.1"/>
<line x1="410.4" y1="378.6" x2="423.7" y2="378.6" stroke="#d62728" stroke-width="2.1"/>
<line x1="410.4" y1="392.1" x2="423.7" y2="392.1" stroke="#1f77b4" stroke-width="2.1"/>
<line x1="429.0" y1="378.6" x2="442.3" y2="378.6" stroke="#d62728" stroke-width="2.1"/>
<line x1="429.0" y1="392.1" x2="442.3" y2="392.1" stroke="#1f77b4" stroke-width="2.1"/>
<line x1="447.5" y1="378.6" x2="460.8" y2="378.6" stroke="#d62728" stroke-width="2.1"/>
<line x1="447.5" y1="392.1" x2="460.8" y2="392.1" stroke="#1f77b4" stroke-width="2.1"/>
<rect x="428.1" y="369.0" width="35.2" height="19.5" fill="#fff" fill-opacity="0.78"/>
<text x="438.6" y="383.6" font-size="17" text-anchor="start" fill="#000" textLength="18.5" lengthAdjust="spacingAndGlyphs"  style="">(f)</text>
<line x1="343.0" y1="386.3" x2="343.0" y2="373.6" stroke="#000" stroke-width="2.5"/>
<polygon points="343.0,370.0 339.9,374.4 346.1,374.4" fill="#000"/>
<line x1="358.7" y1="399.8" x2="358.7" y2="387.1" stroke="#000" stroke-width="2.5"/>
<polygon points="358.7,383.5 355.6,387.9 361.8,387.9" fill="#000"/>
<line x1="364.4" y1="384.4" x2="364.4" y2="397.1" stroke="#000" stroke-width="2.5"/>
<polygon points="364.4,400.7 361.3,396.3 367.5,396.3" fill="#000"/>
<line x1="377.2" y1="399.8" x2="377.2" y2="387.1" stroke="#000" stroke-width="2.5"/>
<polygon points="377.2,383.5 374.1,387.9 380.3,387.9" fill="#000"/>
<line x1="382.9" y1="384.4" x2="382.9" y2="397.1" stroke="#000" stroke-width="2.5"/>
<polygon points="382.9,400.7 379.8,396.3 386.0,396.3" fill="#000"/>
<line x1="417.1" y1="384.4" x2="417.1" y2="397.1" stroke="#000" stroke-width="2.5"/>
<polygon points="417.1,400.7 414.0,396.3 420.2,396.3" fill="#000"/>
<rect x="333.7" y="368.5" width="129.6" height="33.7" fill="none" stroke="#000" stroke-width="1.4"/>
<line x1="327.4" y1="378.6" x2="333.7" y2="378.6" stroke="#000" stroke-width="1.3"/>
<line x1="327.4" y1="392.1" x2="333.7" y2="392.1" stroke="#000" stroke-width="1.3"/>
<rect x="333.7" y="402.1" width="129.6" height="33.7" fill="#fff"/>
<line x1="343.0" y1="402.1" x2="343.0" y2="435.8" stroke="#ededed" stroke-width="1"/>
<line x1="361.5" y1="402.1" x2="361.5" y2="435.8" stroke="#ededed" stroke-width="1"/>
<line x1="380.0" y1="402.1" x2="380.0" y2="435.8" stroke="#ededed" stroke-width="1"/>
<line x1="398.5" y1="402.1" x2="398.5" y2="435.8" stroke="#ededed" stroke-width="1"/>
<line x1="417.1" y1="402.1" x2="417.1" y2="435.8" stroke="#ededed" stroke-width="1"/>
<line x1="435.6" y1="402.1" x2="435.6" y2="435.8" stroke="#ededed" stroke-width="1"/>
<line x1="454.1" y1="402.1" x2="454.1" y2="435.8" stroke="#ededed" stroke-width="1"/>
<line x1="333.7" y1="412.2" x2="463.29999999999995" y2="412.2" stroke="#f1f1f1" stroke-width="1"/>
<line x1="333.7" y1="425.7" x2="463.29999999999995" y2="425.7" stroke="#f1f1f1" stroke-width="1"/>
<line x1="333.7" y1="418.8" x2="463.29999999999995" y2="418.8" stroke="#f1f1f1" stroke-width="1"/>
<line x1="333.7" y1="432.4" x2="463.29999999999995" y2="432.4" stroke="#f1f1f1" stroke-width="1"/>
<line x1="333.7" y1="405.2" x2="463.29999999999995" y2="405.2" stroke="#f1f1f1" stroke-width="1"/>
<line x1="336.3" y1="412.2" x2="349.6" y2="412.2" stroke="#d62728" stroke-width="2.1"/>
<line x1="354.8" y1="412.2" x2="368.1" y2="412.2" stroke="#d62728" stroke-width="2.1"/>
<line x1="354.8" y1="425.7" x2="368.1" y2="425.7" stroke="#1f77b4" stroke-width="2.1"/>
<line x1="373.4" y1="412.2" x2="386.7" y2="412.2" stroke="#d62728" stroke-width="2.1"/>
<line x1="373.4" y1="425.7" x2="386.7" y2="425.7" stroke="#1f77b4" stroke-width="2.1"/>
<line x1="391.9" y1="412.2" x2="405.2" y2="412.2" stroke="#d62728" stroke-width="2.1"/>
<line x1="391.9" y1="425.7" x2="405.2" y2="425.7" stroke="#1f77b4" stroke-width="2.1"/>
<line x1="410.4" y1="412.2" x2="423.7" y2="412.2" stroke="#d62728" stroke-width="2.1"/>
<line x1="410.4" y1="425.7" x2="423.7" y2="425.7" stroke="#1f77b4" stroke-width="2.1"/>
<line x1="429.0" y1="412.2" x2="442.3" y2="412.2" stroke="#d62728" stroke-width="2.1"/>
<line x1="429.0" y1="425.7" x2="442.3" y2="425.7" stroke="#1f77b4" stroke-width="2.1"/>
<line x1="447.5" y1="412.2" x2="460.8" y2="412.2" stroke="#d62728" stroke-width="2.1"/>
<line x1="447.5" y1="425.7" x2="460.8" y2="425.7" stroke="#1f77b4" stroke-width="2.1"/>
<rect x="428.1" y="402.6" width="35.2" height="19.5" fill="#fff" fill-opacity="0.78"/>
<text x="436.1" y="417.2" font-size="17" text-anchor="start" fill="#000" textLength="21.0" lengthAdjust="spacingAndGlyphs"  style="">(g)</text>
<line x1="343.0" y1="419.9" x2="343.0" y2="407.2" stroke="#000" stroke-width="2.5"/>
<polygon points="343.0,403.6 339.9,408.0 346.1,408.0" fill="#000"/>
<line x1="358.7" y1="433.4" x2="358.7" y2="420.7" stroke="#000" stroke-width="2.5"/>
<polygon points="358.7,417.1 355.6,421.5 361.8,421.5" fill="#000"/>
<line x1="364.4" y1="418.0" x2="364.4" y2="430.7" stroke="#000" stroke-width="2.5"/>
<polygon points="364.4,434.3 361.3,429.9 367.5,429.9" fill="#000"/>
<line x1="380.0" y1="418.0" x2="380.0" y2="430.7" stroke="#000" stroke-width="2.5"/>
<polygon points="380.0,434.3 376.9,429.9 383.1,429.9" fill="#000"/>
<line x1="395.7" y1="433.4" x2="395.7" y2="420.7" stroke="#000" stroke-width="2.5"/>
<polygon points="395.7,417.1 392.6,421.5 398.8,421.5" fill="#000"/>
<line x1="401.4" y1="418.0" x2="401.4" y2="430.7" stroke="#000" stroke-width="2.5"/>
<polygon points="401.4,434.3 398.3,429.9 404.5,429.9" fill="#000"/>
<rect x="333.7" y="402.1" width="129.6" height="33.7" fill="none" stroke="#000" stroke-width="1.4"/>
<line x1="327.4" y1="412.2" x2="333.7" y2="412.2" stroke="#000" stroke-width="1.3"/>
<line x1="327.4" y1="425.7" x2="333.7" y2="425.7" stroke="#000" stroke-width="1.3"/>
<rect x="333.7" y="435.7" width="129.6" height="33.7" fill="#fff"/>
<line x1="343.0" y1="435.7" x2="343.0" y2="469.4" stroke="#ededed" stroke-width="1"/>
<line x1="361.5" y1="435.7" x2="361.5" y2="469.4" stroke="#ededed" stroke-width="1"/>
<line x1="380.0" y1="435.7" x2="380.0" y2="469.4" stroke="#ededed" stroke-width="1"/>
<line x1="398.5" y1="435.7" x2="398.5" y2="469.4" stroke="#ededed" stroke-width="1"/>
<line x1="417.1" y1="435.7" x2="417.1" y2="469.4" stroke="#ededed" stroke-width="1"/>
<line x1="435.6" y1="435.7" x2="435.6" y2="469.4" stroke="#ededed" stroke-width="1"/>
<line x1="454.1" y1="435.7" x2="454.1" y2="469.4" stroke="#ededed" stroke-width="1"/>
<line x1="333.7" y1="445.8" x2="463.29999999999995" y2="445.8" stroke="#f1f1f1" stroke-width="1"/>
<line x1="333.7" y1="459.3" x2="463.29999999999995" y2="459.3" stroke="#f1f1f1" stroke-width="1"/>
<line x1="333.7" y1="452.4" x2="463.29999999999995" y2="452.4" stroke="#f1f1f1" stroke-width="1"/>
<line x1="333.7" y1="466.0" x2="463.29999999999995" y2="466.0" stroke="#f1f1f1" stroke-width="1"/>
<line x1="333.7" y1="438.8" x2="463.29999999999995" y2="438.8" stroke="#f1f1f1" stroke-width="1"/>
<line x1="336.3" y1="445.8" x2="349.6" y2="445.8" stroke="#d62728" stroke-width="2.1"/>
<line x1="354.8" y1="445.8" x2="368.1" y2="445.8" stroke="#d62728" stroke-width="2.1"/>
<line x1="354.8" y1="459.3" x2="368.1" y2="459.3" stroke="#1f77b4" stroke-width="2.1"/>
<line x1="373.4" y1="445.8" x2="386.7" y2="445.8" stroke="#d62728" stroke-width="2.1"/>
<line x1="373.4" y1="459.3" x2="386.7" y2="459.3" stroke="#1f77b4" stroke-width="2.1"/>
<line x1="391.9" y1="445.8" x2="405.2" y2="445.8" stroke="#d62728" stroke-width="2.1"/>
<line x1="391.9" y1="459.3" x2="405.2" y2="459.3" stroke="#1f77b4" stroke-width="2.1"/>
<line x1="410.4" y1="445.8" x2="423.7" y2="445.8" stroke="#d62728" stroke-width="2.1"/>
<line x1="410.4" y1="459.3" x2="423.7" y2="459.3" stroke="#1f77b4" stroke-width="2.1"/>
<line x1="429.0" y1="445.8" x2="442.3" y2="445.8" stroke="#d62728" stroke-width="2.1"/>
<line x1="429.0" y1="459.3" x2="442.3" y2="459.3" stroke="#1f77b4" stroke-width="2.1"/>
<line x1="447.5" y1="445.8" x2="460.8" y2="445.8" stroke="#d62728" stroke-width="2.1"/>
<line x1="447.5" y1="459.3" x2="460.8" y2="459.3" stroke="#1f77b4" stroke-width="2.1"/>
<rect x="428.1" y="436.2" width="35.2" height="19.5" fill="#fff" fill-opacity="0.78"/>
<text x="435.1" y="450.8" font-size="17" text-anchor="start" fill="#000" textLength="22.0" lengthAdjust="spacingAndGlyphs"  style="">(h)</text>
<line x1="361.5" y1="453.5" x2="361.5" y2="440.8" stroke="#000" stroke-width="2.5"/>
<polygon points="361.5,437.2 358.4,441.6 364.6,441.6" fill="#000"/>
<line x1="358.7" y1="467.0" x2="358.7" y2="454.3" stroke="#000" stroke-width="2.5"/>
<polygon points="358.7,450.7 355.6,455.1 361.8,455.1" fill="#000"/>
<line x1="364.4" y1="451.6" x2="364.4" y2="464.3" stroke="#000" stroke-width="2.5"/>
<polygon points="364.4,467.9 361.3,463.5 367.5,463.5" fill="#000"/>
<line x1="377.2" y1="467.0" x2="377.2" y2="454.3" stroke="#000" stroke-width="2.5"/>
<polygon points="377.2,450.7 374.1,455.1 380.3,455.1" fill="#000"/>
<line x1="382.9" y1="451.6" x2="382.9" y2="464.3" stroke="#000" stroke-width="2.5"/>
<polygon points="382.9,467.9 379.8,463.5 386.0,463.5" fill="#000"/>
<line x1="398.5" y1="451.6" x2="398.5" y2="464.3" stroke="#000" stroke-width="2.5"/>
<polygon points="398.5,467.9 395.4,463.5 401.6,463.5" fill="#000"/>
<rect x="333.7" y="435.7" width="129.6" height="33.7" fill="none" stroke="#000" stroke-width="1.4"/>
<line x1="327.4" y1="445.8" x2="333.7" y2="445.8" stroke="#000" stroke-width="1.3"/>
<line x1="327.4" y1="459.3" x2="333.7" y2="459.3" stroke="#000" stroke-width="1.3"/>
<line x1="343.0" y1="469.4" x2="343.0" y2="475.7" stroke="#000" stroke-width="1.3"/>
<line x1="361.5" y1="469.4" x2="361.5" y2="475.7" stroke="#000" stroke-width="1.3"/>
<line x1="380.0" y1="469.4" x2="380.0" y2="475.7" stroke="#000" stroke-width="1.3"/>
<line x1="398.5" y1="469.4" x2="398.5" y2="475.7" stroke="#000" stroke-width="1.3"/>
<line x1="417.1" y1="469.4" x2="417.1" y2="475.7" stroke="#000" stroke-width="1.3"/>
<line x1="435.6" y1="469.4" x2="435.6" y2="475.7" stroke="#000" stroke-width="1.3"/>
<line x1="454.1" y1="469.4" x2="454.1" y2="475.7" stroke="#000" stroke-width="1.3"/>
<text x="332.8" y="495.0" font-size="16.5" text-anchor="start" fill="#000" textLength="22.0" lengthAdjust="spacingAndGlyphs"  style="">−1</text>
<text x="357.4" y="495.0" font-size="16.5" text-anchor="start" fill="#000" textLength="8.2" lengthAdjust="spacingAndGlyphs"  style="">0</text>
<text x="375.9" y="495.0" font-size="16.5" text-anchor="start" fill="#000" textLength="8.2" lengthAdjust="spacingAndGlyphs"  style="">1</text>
<text x="394.4" y="495.0" font-size="16.5" text-anchor="start" fill="#000" textLength="8.2" lengthAdjust="spacingAndGlyphs"  style="">2</text>
<text x="413.0" y="495.0" font-size="16.5" text-anchor="start" fill="#000" textLength="8.2" lengthAdjust="spacingAndGlyphs"  style="">3</text>
<text x="431.5" y="495.0" font-size="16.5" text-anchor="start" fill="#000" textLength="8.2" lengthAdjust="spacingAndGlyphs"  style="">4</text>
<text x="450.0" y="495.0" font-size="16.5" text-anchor="start" fill="#000" textLength="8.2" lengthAdjust="spacingAndGlyphs"  style="">5</text>
<rect x="493.9" y="324.3" width="129.39999999999998" height="117.0" fill="#fee9da"/>
<line x1="526.1" y1="324.3" x2="526.1" y2="441.3" stroke="#dfe0e3" stroke-width="1.4"/>
<line x1="590.4" y1="324.3" x2="590.4" y2="441.3" stroke="#fbe7d8" stroke-width="1"/>
<line x1="463.3" y1="297.4" x2="526.1" y2="325.4" stroke="#8c8c8c" stroke-opacity="0.53" stroke-width="1.8"/>
<line x1="463.3" y1="331.2" x2="526.1" y2="342.6" stroke="#8c8c8c" stroke-opacity="0.53" stroke-width="1.8"/>
<line x1="463.4" y1="368.5" x2="575.8" y2="328.2" stroke="#8c8c8c" stroke-opacity="0.53" stroke-width="1.8"/>
<line x1="463.4" y1="469.3" x2="575.8" y2="409.2" stroke="#8c8c8c" stroke-opacity="0.53" stroke-width="1.8"/>
<rect x="575.8" y="328.2" width="12.8" height="81" fill="none" stroke="#8c8c8c" stroke-opacity="0.53" stroke-width="1.8"/>
<circle cx="526.1" cy="334" r="8.6" fill="none" stroke="#8c8c8c" stroke-opacity="0.53" stroke-width="1.8"/>
<circle cx="526.1" cy="334.0" r="3.5" fill="#d62728"/>
<circle cx="582.3" cy="334.0" r="3.5" fill="#d62728"/>
<circle cx="582.3" cy="345.6" r="3.5" fill="#d62728"/>
<circle cx="582.3" cy="403.4" r="3.5" fill="#d62728"/>
<polygon points="522.2,378.9 530.0,378.9 526.1,386.7" fill="#d62728"/>
<polygon points="594.6,378.9 602.4,378.9 598.5,386.7" fill="#d62728"/>
<polygon points="594.6,395.1 602.4,395.1 598.5,402.9" fill="#d62728"/>
<polygon points="594.6,427.7 602.4,427.7 598.5,435.5" fill="#d62728"/>
<line x1="571.4" y1="348.0" x2="571.4" y2="401.5" stroke="#000" stroke-width="1.8"/>
<polyline points="568.3,352.1 571.4,347.4 574.5,352.1" fill="none" stroke="#000" stroke-width="1.8" stroke-linejoin="miter" stroke-linecap="round"/>
<polyline points="568.3,397.4 571.4,402.1 574.5,397.4" fill="none" stroke="#000" stroke-width="1.8" stroke-linejoin="miter" stroke-linecap="round"/>
<path d="M536.8,369.3 c1.6,-3.4 4.2,-3.6 6.4,-1.5 c2.2,2.1 4.6,2.1 6.0,-1.3" fill="none" stroke="#000" stroke-width="1.3" stroke-linecap="round"/>
<text x="555.3" y="372.9" font-size="17" class="i" textLength="8.8" lengthAdjust="spacingAndGlyphs">g</text>
<text x="499.0" y="382.6" font-size="17" text-anchor="start" fill="#000" textLength="16.6" lengthAdjust="spacingAndGlyphs"  style="">(i)</text>
<rect x="497.6" y="398.4" width="69.7" height="38.8" rx="4" ry="4" fill="#fff" fill-opacity="0.8" stroke="#cacaca" stroke-width="1.5"/>
<circle cx="511.5" cy="407.5" r="3.6" fill="#d62728"/>
<polygon points="507.6,422.1 515.4,422.1 511.5,429.9" fill="#d62728"/>
<text x="521.2" y="413.1" font-size="17.5" fill="#000" class="i" textLength="11.0" lengthAdjust="spacingAndGlyphs">S</text>
<line x1="537.2" y1="407.8" x2="548.8" y2="407.8" stroke="#000" stroke-width="1.0"/>
<line x1="537.2" y1="411.0" x2="548.8" y2="411.0" stroke="#000" stroke-width="1.0"/>
<text x="554.0" y="413.1" font-size="16.6" fill="#000" textLength="8.5" lengthAdjust="spacingAndGlyphs">0</text>
<text x="521.2" y="430.5" font-size="17.5" fill="#000" class="i" textLength="11.0" lengthAdjust="spacingAndGlyphs">S</text>
<line x1="537.2" y1="425.2" x2="548.8" y2="425.2" stroke="#000" stroke-width="1.0"/>
<line x1="537.2" y1="428.4" x2="548.8" y2="428.4" stroke="#000" stroke-width="1.0"/>
<text x="554.0" y="430.5" font-size="16.6" fill="#000" textLength="8.5" lengthAdjust="spacingAndGlyphs">1</text>
<rect x="493.9" y="324.3" width="129.39999999999998" height="117.0" fill="none" stroke="#000" stroke-width="1.4"/>
<line x1="526.1" y1="441.3" x2="526.1" y2="447.6" stroke="#000" stroke-width="1.3"/>
<text x="522.0" y="466.8" font-size="16.5" text-anchor="start" fill="#000" textLength="8.2" lengthAdjust="spacingAndGlyphs"  style="">3</text>
<line x1="590.4" y1="441.3" x2="590.4" y2="447.6" stroke="#000" stroke-width="1.3"/>
<text x="586.3" y="466.8" font-size="16.5" text-anchor="start" fill="#000" textLength="8.2" lengthAdjust="spacingAndGlyphs"  style="">4</text>
<line x1="642.0" y1="314.4" x2="689.1" y2="314.4" stroke="#000" stroke-width="2.2"/>
<polygon points="697.1,314.4 688.1,318.4 688.1,310.4" fill="#000"/>
<line x1="642.0" y1="385.7" x2="694.1" y2="385.7" stroke="#808080" stroke-width="2"/>
<polyline points="687.1,389.4 695.1,385.7 687.1,381.9" fill="none" stroke="#808080" stroke-width="2" stroke-linejoin="miter"/>
<text x="654.3" y="336.4" font-size="17.5" fill="#000" textLength="30.5" lengthAdjust="spacingAndGlyphs"><tspan class="i">δH</tspan><tspan font-size="11.2" dy="2.7" dx="0.3">3</tspan></text>
<text x="654.3" y="407.5" font-size="17.5" fill="#999" textLength="30.5" lengthAdjust="spacingAndGlyphs"><tspan class="i">δH</tspan><tspan font-size="11.2" dy="2.7" dx="0.3">4</tspan></text>
<rect x="716.1" y="297.3" width="129.6" height="33.7" fill="#fff"/>
<line x1="725.4" y1="297.3" x2="725.4" y2="331.0" stroke="#ededed" stroke-width="1"/>
<line x1="743.9" y1="297.3" x2="743.9" y2="331.0" stroke="#ededed" stroke-width="1"/>
<line x1="762.4" y1="297.3" x2="762.4" y2="331.0" stroke="#ededed" stroke-width="1"/>
<line x1="781.0" y1="297.3" x2="781.0" y2="331.0" stroke="#ededed" stroke-width="1"/>
<line x1="799.5" y1="297.3" x2="799.5" y2="331.0" stroke="#ededed" stroke-width="1"/>
<line x1="818.0" y1="297.3" x2="818.0" y2="331.0" stroke="#ededed" stroke-width="1"/>
<line x1="836.5" y1="297.3" x2="836.5" y2="331.0" stroke="#ededed" stroke-width="1"/>
<line x1="716.1" y1="307.4" x2="845.7" y2="307.4" stroke="#f1f1f1" stroke-width="1"/>
<line x1="716.1" y1="320.9" x2="845.7" y2="320.9" stroke="#f1f1f1" stroke-width="1"/>
<line x1="716.1" y1="314.0" x2="845.7" y2="314.0" stroke="#f1f1f1" stroke-width="1"/>
<line x1="716.1" y1="327.6" x2="845.7" y2="327.6" stroke="#f1f1f1" stroke-width="1"/>
<line x1="716.1" y1="300.4" x2="845.7" y2="300.4" stroke="#f1f1f1" stroke-width="1"/>
<line x1="718.7" y1="307.4" x2="732.0" y2="307.4" stroke="#d62728" stroke-width="2.1"/>
<line x1="737.2" y1="307.4" x2="750.5" y2="307.4" stroke="#d62728" stroke-width="2.1"/>
<line x1="737.2" y1="320.9" x2="750.5" y2="320.9" stroke="#1f77b4" stroke-width="2.1"/>
<line x1="755.8" y1="307.4" x2="769.1" y2="307.4" stroke="#d62728" stroke-width="2.1"/>
<line x1="755.8" y1="320.9" x2="769.1" y2="320.9" stroke="#1f77b4" stroke-width="2.1"/>
<line x1="774.3" y1="307.4" x2="787.6" y2="307.4" stroke="#d62728" stroke-width="2.1"/>
<line x1="774.3" y1="320.9" x2="787.6" y2="320.9" stroke="#1f77b4" stroke-width="2.1"/>
<line x1="792.8" y1="307.4" x2="806.1" y2="307.4" stroke="#d62728" stroke-width="2.1"/>
<line x1="792.8" y1="320.9" x2="806.1" y2="320.9" stroke="#1f77b4" stroke-width="2.1"/>
<line x1="811.4" y1="307.4" x2="824.7" y2="307.4" stroke="#d62728" stroke-width="2.1"/>
<line x1="811.4" y1="320.9" x2="824.7" y2="320.9" stroke="#1f77b4" stroke-width="2.1"/>
<line x1="829.9" y1="307.4" x2="843.2" y2="307.4" stroke="#d62728" stroke-width="2.1"/>
<line x1="829.9" y1="320.9" x2="843.2" y2="320.9" stroke="#1f77b4" stroke-width="2.1"/>
<rect x="810.5" y="297.8" width="35.2" height="19.5" fill="#fff" fill-opacity="0.78"/>
<text x="822.0" y="312.4" font-size="17" text-anchor="start" fill="#000" textLength="17.5" lengthAdjust="spacingAndGlyphs"  style="">(j)</text>
<line x1="741.1" y1="328.6" x2="741.1" y2="315.9" stroke="#000" stroke-width="2.5"/>
<polygon points="741.1,312.3 738.0,316.7 744.2,316.7" fill="#000"/>
<line x1="746.8" y1="313.2" x2="746.8" y2="325.9" stroke="#000" stroke-width="2.5"/>
<polygon points="746.8,329.5 743.7,325.1 749.9,325.1" fill="#000"/>
<line x1="759.6" y1="328.6" x2="759.6" y2="315.9" stroke="#000" stroke-width="2.5"/>
<polygon points="759.6,312.3 756.5,316.7 762.7,316.7" fill="#000"/>
<line x1="765.3" y1="313.2" x2="765.3" y2="325.9" stroke="#000" stroke-width="2.5"/>
<polygon points="765.3,329.5 762.2,325.1 768.4,325.1" fill="#000"/>
<line x1="778.2" y1="328.6" x2="778.2" y2="315.9" stroke="#000" stroke-width="2.5"/>
<polygon points="778.2,312.3 775.1,316.7 781.3,316.7" fill="#000"/>
<line x1="783.9" y1="313.2" x2="783.9" y2="325.9" stroke="#000" stroke-width="2.5"/>
<polygon points="783.9,329.5 780.8,325.1 787.0,325.1" fill="#000"/>
<rect x="716.1" y="297.3" width="129.6" height="33.7" fill="none" stroke="#000" stroke-width="1.4"/>
<line x1="709.8000000000001" y1="307.4" x2="716.1" y2="307.4" stroke="#000" stroke-width="1.3"/>
<line x1="709.8000000000001" y1="320.9" x2="716.1" y2="320.9" stroke="#000" stroke-width="1.3"/>
<line x1="725.4" y1="331.0" x2="725.4" y2="337.3" stroke="#000" stroke-width="1.3"/>
<line x1="743.9" y1="331.0" x2="743.9" y2="337.3" stroke="#000" stroke-width="1.3"/>
<line x1="762.4" y1="331.0" x2="762.4" y2="337.3" stroke="#000" stroke-width="1.3"/>
<line x1="781.0" y1="331.0" x2="781.0" y2="337.3" stroke="#000" stroke-width="1.3"/>
<line x1="799.5" y1="331.0" x2="799.5" y2="337.3" stroke="#000" stroke-width="1.3"/>
<line x1="818.0" y1="331.0" x2="818.0" y2="337.3" stroke="#000" stroke-width="1.3"/>
<line x1="836.5" y1="331.0" x2="836.5" y2="337.3" stroke="#000" stroke-width="1.3"/>
<rect x="716.1" y="368.7" width="129.6" height="33.7" fill="#fff"/>
<line x1="725.4" y1="368.7" x2="725.4" y2="402.4" stroke="#ededed" stroke-width="1"/>
<line x1="743.9" y1="368.7" x2="743.9" y2="402.4" stroke="#ededed" stroke-width="1"/>
<line x1="762.4" y1="368.7" x2="762.4" y2="402.4" stroke="#ededed" stroke-width="1"/>
<line x1="781.0" y1="368.7" x2="781.0" y2="402.4" stroke="#ededed" stroke-width="1"/>
<line x1="799.5" y1="368.7" x2="799.5" y2="402.4" stroke="#ededed" stroke-width="1"/>
<line x1="818.0" y1="368.7" x2="818.0" y2="402.4" stroke="#ededed" stroke-width="1"/>
<line x1="836.5" y1="368.7" x2="836.5" y2="402.4" stroke="#ededed" stroke-width="1"/>
<line x1="716.1" y1="378.8" x2="845.7" y2="378.8" stroke="#f1f1f1" stroke-width="1"/>
<line x1="716.1" y1="392.3" x2="845.7" y2="392.3" stroke="#f1f1f1" stroke-width="1"/>
<line x1="716.1" y1="385.4" x2="845.7" y2="385.4" stroke="#f1f1f1" stroke-width="1"/>
<line x1="716.1" y1="399.0" x2="845.7" y2="399.0" stroke="#f1f1f1" stroke-width="1"/>
<line x1="716.1" y1="371.8" x2="845.7" y2="371.8" stroke="#f1f1f1" stroke-width="1"/>
<line x1="718.7" y1="378.8" x2="732.0" y2="378.8" stroke="#d62728" stroke-width="2.1"/>
<line x1="737.2" y1="378.8" x2="750.5" y2="378.8" stroke="#d62728" stroke-width="2.1"/>
<line x1="737.2" y1="392.3" x2="750.5" y2="392.3" stroke="#1f77b4" stroke-width="2.1"/>
<line x1="755.8" y1="378.8" x2="769.1" y2="378.8" stroke="#d62728" stroke-width="2.1"/>
<line x1="755.8" y1="392.3" x2="769.1" y2="392.3" stroke="#1f77b4" stroke-width="2.1"/>
<line x1="774.3" y1="378.8" x2="787.6" y2="378.8" stroke="#d62728" stroke-width="2.1"/>
<line x1="774.3" y1="392.3" x2="787.6" y2="392.3" stroke="#1f77b4" stroke-width="2.1"/>
<line x1="792.8" y1="378.8" x2="806.1" y2="378.8" stroke="#d62728" stroke-width="2.1"/>
<line x1="792.8" y1="392.3" x2="806.1" y2="392.3" stroke="#1f77b4" stroke-width="2.1"/>
<line x1="811.4" y1="378.8" x2="824.7" y2="378.8" stroke="#d62728" stroke-width="2.1"/>
<line x1="811.4" y1="392.3" x2="824.7" y2="392.3" stroke="#1f77b4" stroke-width="2.1"/>
<line x1="829.9" y1="378.8" x2="843.2" y2="378.8" stroke="#d62728" stroke-width="2.1"/>
<line x1="829.9" y1="392.3" x2="843.2" y2="392.3" stroke="#1f77b4" stroke-width="2.1"/>
<rect x="810.5" y="369.2" width="35.2" height="19.5" fill="#fff" fill-opacity="0.78"/>
<text x="817.8" y="383.8" font-size="17" text-anchor="start" fill="#000" textLength="21.7" lengthAdjust="spacingAndGlyphs"  style="">(k)</text>
<line x1="741.1" y1="400.0" x2="741.1" y2="387.3" stroke="#000" stroke-width="2.5"/>
<polygon points="741.1,383.7 738.0,388.1 744.2,388.1" fill="#000"/>
<line x1="746.8" y1="384.6" x2="746.8" y2="397.3" stroke="#000" stroke-width="2.5"/>
<polygon points="746.8,400.9 743.7,396.5 749.9,396.5" fill="#000"/>
<line x1="759.6" y1="400.0" x2="759.6" y2="387.3" stroke="#000" stroke-width="2.5"/>
<polygon points="759.6,383.7 756.5,388.1 762.7,388.1" fill="#000"/>
<line x1="765.3" y1="384.6" x2="765.3" y2="397.3" stroke="#000" stroke-width="2.5"/>
<polygon points="765.3,400.9 762.2,396.5 768.4,396.5" fill="#000"/>
<line x1="796.7" y1="400.0" x2="796.7" y2="387.3" stroke="#000" stroke-width="2.5"/>
<polygon points="796.7,383.7 793.6,388.1 799.8,388.1" fill="#000"/>
<line x1="802.4" y1="384.6" x2="802.4" y2="397.3" stroke="#000" stroke-width="2.5"/>
<polygon points="802.4,400.9 799.3,396.5 805.5,396.5" fill="#000"/>
<rect x="716.1" y="368.7" width="129.6" height="33.7" fill="none" stroke="#000" stroke-width="1.4"/>
<line x1="709.8000000000001" y1="378.8" x2="716.1" y2="378.8" stroke="#000" stroke-width="1.3"/>
<line x1="709.8000000000001" y1="392.3" x2="716.1" y2="392.3" stroke="#000" stroke-width="1.3"/>
<rect x="716.1" y="402.3" width="129.6" height="33.7" fill="#fff"/>
<line x1="725.4" y1="402.3" x2="725.4" y2="436.0" stroke="#ededed" stroke-width="1"/>
<line x1="743.9" y1="402.3" x2="743.9" y2="436.0" stroke="#ededed" stroke-width="1"/>
<line x1="762.4" y1="402.3" x2="762.4" y2="436.0" stroke="#ededed" stroke-width="1"/>
<line x1="781.0" y1="402.3" x2="781.0" y2="436.0" stroke="#ededed" stroke-width="1"/>
<line x1="799.5" y1="402.3" x2="799.5" y2="436.0" stroke="#ededed" stroke-width="1"/>
<line x1="818.0" y1="402.3" x2="818.0" y2="436.0" stroke="#ededed" stroke-width="1"/>
<line x1="836.5" y1="402.3" x2="836.5" y2="436.0" stroke="#ededed" stroke-width="1"/>
<line x1="716.1" y1="412.4" x2="845.7" y2="412.4" stroke="#f1f1f1" stroke-width="1"/>
<line x1="716.1" y1="425.9" x2="845.7" y2="425.9" stroke="#f1f1f1" stroke-width="1"/>
<line x1="716.1" y1="419.0" x2="845.7" y2="419.0" stroke="#f1f1f1" stroke-width="1"/>
<line x1="716.1" y1="432.6" x2="845.7" y2="432.6" stroke="#f1f1f1" stroke-width="1"/>
<line x1="716.1" y1="405.4" x2="845.7" y2="405.4" stroke="#f1f1f1" stroke-width="1"/>
<line x1="718.7" y1="412.4" x2="732.0" y2="412.4" stroke="#d62728" stroke-width="2.1"/>
<line x1="737.2" y1="412.4" x2="750.5" y2="412.4" stroke="#d62728" stroke-width="2.1"/>
<line x1="737.2" y1="425.9" x2="750.5" y2="425.9" stroke="#1f77b4" stroke-width="2.1"/>
<line x1="755.8" y1="412.4" x2="769.1" y2="412.4" stroke="#d62728" stroke-width="2.1"/>
<line x1="755.8" y1="425.9" x2="769.1" y2="425.9" stroke="#1f77b4" stroke-width="2.1"/>
<line x1="774.3" y1="412.4" x2="787.6" y2="412.4" stroke="#d62728" stroke-width="2.1"/>
<line x1="774.3" y1="425.9" x2="787.6" y2="425.9" stroke="#1f77b4" stroke-width="2.1"/>
<line x1="792.8" y1="412.4" x2="806.1" y2="412.4" stroke="#d62728" stroke-width="2.1"/>
<line x1="792.8" y1="425.9" x2="806.1" y2="425.9" stroke="#1f77b4" stroke-width="2.1"/>
<line x1="811.4" y1="412.4" x2="824.7" y2="412.4" stroke="#d62728" stroke-width="2.1"/>
<line x1="811.4" y1="425.9" x2="824.7" y2="425.9" stroke="#1f77b4" stroke-width="2.1"/>
<line x1="829.9" y1="412.4" x2="843.2" y2="412.4" stroke="#d62728" stroke-width="2.1"/>
<line x1="829.9" y1="425.9" x2="843.2" y2="425.9" stroke="#1f77b4" stroke-width="2.1"/>
<rect x="810.5" y="402.8" width="35.2" height="19.5" fill="#fff" fill-opacity="0.78"/>
<text x="822.9" y="417.4" font-size="17" text-anchor="start" fill="#000" textLength="16.6" lengthAdjust="spacingAndGlyphs"  style="">(l)</text>
<line x1="741.1" y1="433.6" x2="741.1" y2="420.9" stroke="#000" stroke-width="2.5"/>
<polygon points="741.1,417.3 738.0,421.7 744.2,421.7" fill="#000"/>
<line x1="746.8" y1="418.2" x2="746.8" y2="430.9" stroke="#000" stroke-width="2.5"/>
<polygon points="746.8,434.5 743.7,430.1 749.9,430.1" fill="#000"/>
<line x1="759.6" y1="433.6" x2="759.6" y2="420.9" stroke="#000" stroke-width="2.5"/>
<polygon points="759.6,417.3 756.5,421.7 762.7,421.7" fill="#000"/>
<line x1="765.3" y1="418.2" x2="765.3" y2="430.9" stroke="#000" stroke-width="2.5"/>
<polygon points="765.3,434.5 762.2,430.1 768.4,430.1" fill="#000"/>
<line x1="781.0" y1="433.6" x2="781.0" y2="420.9" stroke="#000" stroke-width="2.5"/>
<polygon points="781.0,417.3 777.9,421.7 784.1,421.7" fill="#000"/>
<line x1="818.0" y1="418.2" x2="818.0" y2="430.9" stroke="#000" stroke-width="2.5"/>
<polygon points="818.0,434.5 814.9,430.1 821.1,430.1" fill="#000"/>
<rect x="716.1" y="402.3" width="129.6" height="33.7" fill="none" stroke="#000" stroke-width="1.4"/>
<line x1="709.8000000000001" y1="412.4" x2="716.1" y2="412.4" stroke="#000" stroke-width="1.3"/>
<line x1="709.8000000000001" y1="425.9" x2="716.1" y2="425.9" stroke="#000" stroke-width="1.3"/>
<rect x="716.1" y="435.9" width="129.6" height="33.7" fill="#fff"/>
<line x1="725.4" y1="435.9" x2="725.4" y2="469.59999999999997" stroke="#ededed" stroke-width="1"/>
<line x1="743.9" y1="435.9" x2="743.9" y2="469.59999999999997" stroke="#ededed" stroke-width="1"/>
<line x1="762.4" y1="435.9" x2="762.4" y2="469.59999999999997" stroke="#ededed" stroke-width="1"/>
<line x1="781.0" y1="435.9" x2="781.0" y2="469.59999999999997" stroke="#ededed" stroke-width="1"/>
<line x1="799.5" y1="435.9" x2="799.5" y2="469.59999999999997" stroke="#ededed" stroke-width="1"/>
<line x1="818.0" y1="435.9" x2="818.0" y2="469.59999999999997" stroke="#ededed" stroke-width="1"/>
<line x1="836.5" y1="435.9" x2="836.5" y2="469.59999999999997" stroke="#ededed" stroke-width="1"/>
<line x1="716.1" y1="446.0" x2="845.7" y2="446.0" stroke="#f1f1f1" stroke-width="1"/>
<line x1="716.1" y1="459.5" x2="845.7" y2="459.5" stroke="#f1f1f1" stroke-width="1"/>
<line x1="716.1" y1="452.6" x2="845.7" y2="452.6" stroke="#f1f1f1" stroke-width="1"/>
<line x1="716.1" y1="466.2" x2="845.7" y2="466.2" stroke="#f1f1f1" stroke-width="1"/>
<line x1="716.1" y1="439.0" x2="845.7" y2="439.0" stroke="#f1f1f1" stroke-width="1"/>
<line x1="718.7" y1="446.0" x2="732.0" y2="446.0" stroke="#d62728" stroke-width="2.1"/>
<line x1="737.2" y1="446.0" x2="750.5" y2="446.0" stroke="#d62728" stroke-width="2.1"/>
<line x1="737.2" y1="459.5" x2="750.5" y2="459.5" stroke="#1f77b4" stroke-width="2.1"/>
<line x1="755.8" y1="446.0" x2="769.1" y2="446.0" stroke="#d62728" stroke-width="2.1"/>
<line x1="755.8" y1="459.5" x2="769.1" y2="459.5" stroke="#1f77b4" stroke-width="2.1"/>
<line x1="774.3" y1="446.0" x2="787.6" y2="446.0" stroke="#d62728" stroke-width="2.1"/>
<line x1="774.3" y1="459.5" x2="787.6" y2="459.5" stroke="#1f77b4" stroke-width="2.1"/>
<line x1="792.8" y1="446.0" x2="806.1" y2="446.0" stroke="#d62728" stroke-width="2.1"/>
<line x1="792.8" y1="459.5" x2="806.1" y2="459.5" stroke="#1f77b4" stroke-width="2.1"/>
<line x1="811.4" y1="446.0" x2="824.7" y2="446.0" stroke="#d62728" stroke-width="2.1"/>
<line x1="811.4" y1="459.5" x2="824.7" y2="459.5" stroke="#1f77b4" stroke-width="2.1"/>
<line x1="829.9" y1="446.0" x2="843.2" y2="446.0" stroke="#d62728" stroke-width="2.1"/>
<line x1="829.9" y1="459.5" x2="843.2" y2="459.5" stroke="#1f77b4" stroke-width="2.1"/>
<rect x="810.5" y="436.4" width="35.2" height="19.5" fill="#fff" fill-opacity="0.78"/>
<text x="813.3" y="451.0" font-size="17" text-anchor="start" fill="#000" textLength="26.2" lengthAdjust="spacingAndGlyphs"  style="">(m)</text>
<line x1="741.1" y1="467.2" x2="741.1" y2="454.5" stroke="#000" stroke-width="2.5"/>
<polygon points="741.1,450.9 738.0,455.3 744.2,455.3" fill="#000"/>
<line x1="746.8" y1="451.8" x2="746.8" y2="464.5" stroke="#000" stroke-width="2.5"/>
<polygon points="746.8,468.1 743.7,463.7 749.9,463.7" fill="#000"/>
<line x1="762.4" y1="467.2" x2="762.4" y2="454.5" stroke="#000" stroke-width="2.5"/>
<polygon points="762.4,450.9 759.3,455.3 765.5,455.3" fill="#000"/>
<line x1="778.2" y1="467.2" x2="778.2" y2="454.5" stroke="#000" stroke-width="2.5"/>
<polygon points="778.2,450.9 775.1,455.3 781.3,455.3" fill="#000"/>
<line x1="783.9" y1="451.8" x2="783.9" y2="464.5" stroke="#000" stroke-width="2.5"/>
<polygon points="783.9,468.1 780.8,463.7 787.0,463.7" fill="#000"/>
<line x1="799.5" y1="451.8" x2="799.5" y2="464.5" stroke="#000" stroke-width="2.5"/>
<polygon points="799.5,468.1 796.4,463.7 802.6,463.7" fill="#000"/>
<rect x="716.1" y="435.9" width="129.6" height="33.7" fill="none" stroke="#000" stroke-width="1.4"/>
<line x1="709.8000000000001" y1="446.0" x2="716.1" y2="446.0" stroke="#000" stroke-width="1.3"/>
<line x1="709.8000000000001" y1="459.5" x2="716.1" y2="459.5" stroke="#000" stroke-width="1.3"/>
<line x1="725.4" y1="469.59999999999997" x2="725.4" y2="475.9" stroke="#000" stroke-width="1.3"/>
<line x1="743.9" y1="469.59999999999997" x2="743.9" y2="475.9" stroke="#000" stroke-width="1.3"/>
<line x1="762.4" y1="469.59999999999997" x2="762.4" y2="475.9" stroke="#000" stroke-width="1.3"/>
<line x1="781.0" y1="469.59999999999997" x2="781.0" y2="475.9" stroke="#000" stroke-width="1.3"/>
<line x1="799.5" y1="469.59999999999997" x2="799.5" y2="475.9" stroke="#000" stroke-width="1.3"/>
<line x1="818.0" y1="469.59999999999997" x2="818.0" y2="475.9" stroke="#000" stroke-width="1.3"/>
<line x1="836.5" y1="469.59999999999997" x2="836.5" y2="475.9" stroke="#000" stroke-width="1.3"/>
<text x="715.2" y="494.8" font-size="16.5" text-anchor="start" fill="#000" textLength="22.0" lengthAdjust="spacingAndGlyphs"  style="">−1</text>
<text x="739.8" y="494.8" font-size="16.5" text-anchor="start" fill="#000" textLength="8.2" lengthAdjust="spacingAndGlyphs"  style="">0</text>
<text x="758.3" y="494.8" font-size="16.5" text-anchor="start" fill="#000" textLength="8.2" lengthAdjust="spacingAndGlyphs"  style="">1</text>
<text x="776.9" y="494.8" font-size="16.5" text-anchor="start" fill="#000" textLength="8.2" lengthAdjust="spacingAndGlyphs"  style="">2</text>
<text x="795.4" y="494.8" font-size="16.5" text-anchor="start" fill="#000" textLength="8.2" lengthAdjust="spacingAndGlyphs"  style="">3</text>
<text x="813.9" y="494.8" font-size="16.5" text-anchor="start" fill="#000" textLength="8.2" lengthAdjust="spacingAndGlyphs"  style="">4</text>
<text x="832.4" y="494.8" font-size="16.5" text-anchor="start" fill="#000" textLength="8.2" lengthAdjust="spacingAndGlyphs"  style="">5</text>
<rect x="876.7" y="324.1" width="128.39999999999998" height="117.19999999999999" fill="#eef3fa"/>
<line x1="897.7" y1="324.1" x2="897.7" y2="441.3" stroke="#dcdcdc" stroke-width="1.3"/>
<line x1="940.5" y1="324.1" x2="940.5" y2="441.3" stroke="#e6eaf0" stroke-width="1.3"/>
<line x1="983.4" y1="324.1" x2="983.4" y2="441.3" stroke="#e6eaf0" stroke-width="1.3"/>
<line x1="845.7" y1="297.3" x2="897.7" y2="327.6" stroke="#8c8c8c" stroke-opacity="0.53" stroke-width="1.8"/>
<line x1="845.7" y1="330.9" x2="897.7" y2="344.9" stroke="#8c8c8c" stroke-opacity="0.53" stroke-width="1.8"/>
<line x1="845.7" y1="368.7" x2="971.1" y2="328.6" stroke="#8c8c8c" stroke-opacity="0.53" stroke-width="1.8"/>
<line x1="845.7" y1="469.5" x2="971.1" y2="436.2" stroke="#8c8c8c" stroke-opacity="0.53" stroke-width="1.8"/>
<rect x="971.1" y="328.6" width="12.7" height="107.6" fill="none" stroke="#8c8c8c" stroke-opacity="0.53" stroke-width="1.8"/>
<circle cx="897.7" cy="336.2" r="8.6" fill="none" stroke="#8c8c8c" stroke-opacity="0.53" stroke-width="1.8"/>
<circle cx="897.7" cy="336.2" r="3.5" fill="#1f77b4"/>
<circle cx="940.5" cy="336.2" r="3.5" fill="#1f77b4"/>
<circle cx="977.3" cy="336.2" r="3.5" fill="#1f77b4"/>
<circle cx="977.3" cy="348.7" r="3.5" fill="#1f77b4"/>
<circle cx="977.2" cy="428.6" r="3.5" fill="#1f77b4"/>
<polygon points="936.6,382.8 944.4,382.8 940.5,390.6" fill="#1f77b4"/>
<polygon points="986.2,382.8 994.0,382.8 990.1,390.6" fill="#1f77b4"/>
<polygon points="986.2,419.8 994.0,419.8 990.1,427.6" fill="#1f77b4"/>
<line x1="964.2" y1="351.3" x2="964.2" y2="427.1" stroke="#000" stroke-width="1.8"/>
<polyline points="961.1,355.40000000000003 964.2,350.7 967.3000000000001,355.40000000000003" fill="none" stroke="#000" stroke-width="1.8" stroke-linejoin="miter" stroke-linecap="round"/>
<polyline points="961.1,423.0 964.2,427.70000000000005 967.3000000000001,423.0" fill="none" stroke="#000" stroke-width="1.8" stroke-linejoin="miter" stroke-linecap="round"/>
<path d="M930.9,369.0 c1.6,-3.4 4.2,-3.6 6.4,-1.5 c2.2,2.1 4.6,2.1 6.0,-1.3" fill="none" stroke="#000" stroke-width="1.3" stroke-linecap="round"/>
<text x="949.4" y="372.6" font-size="17" class="i" textLength="8.8" lengthAdjust="spacingAndGlyphs">g</text>
<text x="881.3" y="383.0" font-size="17" text-anchor="start" fill="#000" textLength="21.5" lengthAdjust="spacingAndGlyphs"  style="">(n)</text>
<rect x="880.1" y="398.0" width="69.0" height="38.7" rx="3" ry="3" fill="#fff" fill-opacity="0.8" stroke="#c6c6c6" stroke-width="1.5"/>
<circle cx="893.6" cy="407.8" r="3.5" fill="#1f77b4"/>
<polygon points="889.7,421.9 897.5,421.9 893.6,429.7" fill="#1f77b4"/>
<text x="903.5" y="413.1" font-size="17.5" fill="#000" class="i" textLength="11.0" lengthAdjust="spacingAndGlyphs">S</text>
<line x1="919.5" y1="407.8" x2="931.1" y2="407.8" stroke="#000" stroke-width="1.0"/>
<line x1="919.5" y1="411.0" x2="931.1" y2="411.0" stroke="#000" stroke-width="1.0"/>
<text x="936.3" y="413.1" font-size="16.6" fill="#000" textLength="8.5" lengthAdjust="spacingAndGlyphs">0</text>
<text x="903.5" y="430.5" font-size="17.5" fill="#000" class="i" textLength="11.0" lengthAdjust="spacingAndGlyphs">S</text>
<line x1="919.5" y1="425.2" x2="931.1" y2="425.2" stroke="#000" stroke-width="1.0"/>
<line x1="919.5" y1="428.4" x2="931.1" y2="428.4" stroke="#000" stroke-width="1.0"/>
<text x="936.3" y="430.5" font-size="16.6" fill="#000" textLength="8.5" lengthAdjust="spacingAndGlyphs">1</text>
<rect x="876.7" y="324.1" width="128.39999999999998" height="117.19999999999999" fill="none" stroke="#000" stroke-width="1.4"/>
<line x1="897.7" y1="441.3" x2="897.7" y2="447.6" stroke="#000" stroke-width="1.3"/>
<text x="893.6" y="466.8" font-size="16.5" text-anchor="start" fill="#000" textLength="8.2" lengthAdjust="spacingAndGlyphs"  style="">6</text>
<line x1="940.5" y1="441.3" x2="940.5" y2="447.6" stroke="#000" stroke-width="1.3"/>
<text x="936.4" y="466.8" font-size="16.5" text-anchor="start" fill="#000" textLength="8.2" lengthAdjust="spacingAndGlyphs"  style="">7</text>
<line x1="983.4" y1="441.3" x2="983.4" y2="447.6" stroke="#000" stroke-width="1.3"/>
<text x="979.3" y="466.8" font-size="16.5" text-anchor="start" fill="#000" textLength="8.2" lengthAdjust="spacingAndGlyphs"  style="">8</text>
<ellipse cx="1029.8" cy="-1.2" rx="3.6" ry="4.0" fill="none" stroke="#111" stroke-width="1.5"/>
</svg>
</body></html>
